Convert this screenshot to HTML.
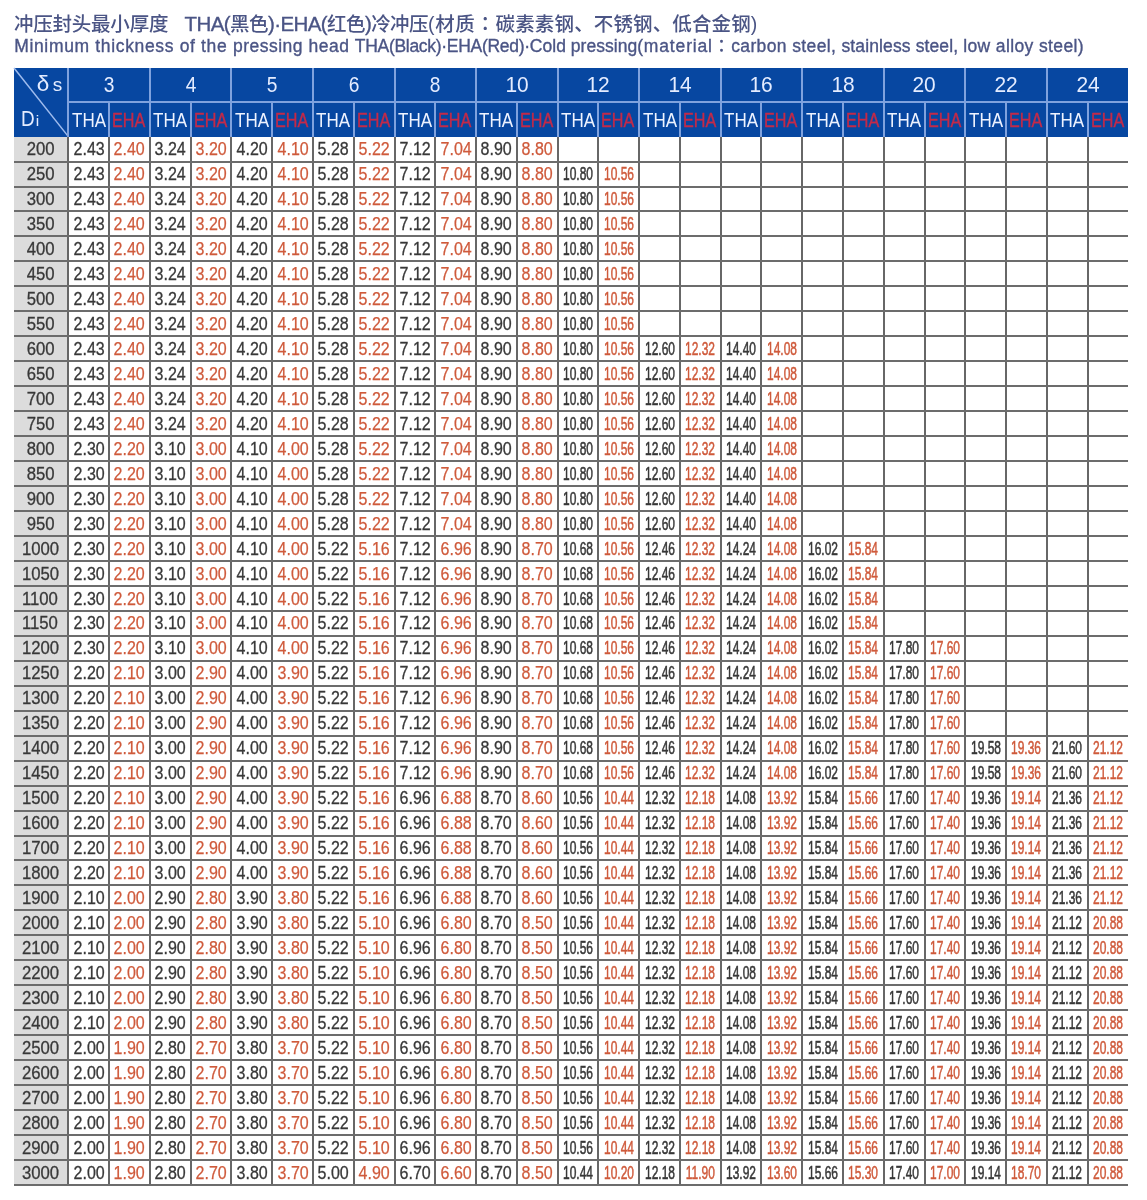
<!DOCTYPE html><html><head><meta charset="utf-8"><title>冲压封头最小厚度</title><style>
*{margin:0;padding:0;box-sizing:border-box}
html,body{width:1147px;height:1200px;background:#fff;overflow:hidden}
body{position:relative;font-family:"Liberation Sans","Noto Sans CJK SC",sans-serif}
.t1,.t2{position:absolute;left:0;width:1147px;color:#4b5585;white-space:nowrap}
.t1{top:9.5px;height:28px;font-size:19.5px;line-height:28px}
.t2{top:34px;height:24px;font-size:17.5px;line-height:24px}
.t1 span,.t2 span{position:absolute;top:0;white-space:pre}
.t1 b{line-height:0;font-weight:400;font-size:20.5px;-webkit-text-stroke:0.35px #4b5585}
.t1{font-weight:500}
i{font-style:normal;line-height:0;font-family:"Liberation Sans","Noto Sans CJK TC",sans-serif}
.t2{-webkit-text-stroke:0.35px #4b5585}
.hd{position:absolute;left:14.0px;top:68.0px;width:1114.42px;height:68.6px;background:#0747a1}
.fc{position:absolute;left:14.0px;top:136.6px;width:54.400000000000006px;height:1048.4px;background:#dcdcdc}
.c{position:absolute;display:flex;justify-content:center;white-space:nowrap}
.c span{display:block;flex:none;transform-origin:50% 50%}
.g{color:#e4ecff;font-size:21.8px}
.th{color:#eef3ff;font-size:21px}
.eh{color:#c42a48;font-size:21px;-webkit-text-stroke:0.4px #c42a48}
.d{color:#383838;font-size:17.6px;-webkit-text-stroke:0.3px #383838}
.r{color:#cf5a3b;font-size:17.6px;-webkit-text-stroke:0.25px #cf5a3b}
.d.k{-webkit-text-stroke:0.55px #383838}
.r.k{-webkit-text-stroke:0.5px #cf5a3b}
.di{color:#383838;font-size:17.6px;-webkit-text-stroke:0.3px #383838}
.cn{position:absolute;line-height:24px;height:24px;color:#e4ecff;white-space:nowrap}
.lv{position:absolute;width:2px;background:#676767}
.lh{position:absolute;height:2px;background:#6c6c6c}
.hv{position:absolute;width:2px;background:#7fa2de}
.hh{position:absolute;height:2px;background:#7fa2de}
</style></head><body>
<div class="t1">
<span id="a0" style="left:14.0px;letter-spacing:-0.227px">冲压封头最小厚度</span>
<span id="a1" style="left:184.6px;letter-spacing:-0.580px"><b>THA(</b>黑色<b>)·EHA(</b>红色<b>)</b>冷冲压</span>
<span id="a2" style="left:428.0px;letter-spacing:0.646px">(材质<i>：</i></span>
<span id="a3" style="left:495.6px;letter-spacing:0.136px">碳素素钢、不锈钢、低合金钢)</span>
</div><div class="t2">
<span id="b0" style="left:14.2px;letter-spacing:0.656px">Minimum thickness of the </span>
<span id="b1" style="left:232.9px;letter-spacing:0.506px">pressing head </span>
<span id="b2" style="left:354.8px;letter-spacing:-0.293px">THA(Black)·EHA(Red)·</span>
<span id="b3" style="left:529.8px;letter-spacing:0.031px">Cold pressing</span>
<span id="b4" style="left:637.2px;letter-spacing:0.842px">(material<i>：</i></span>
<span id="b5" style="left:731.2px;letter-spacing:0.374px">carbon steel, </span>
<span id="b6" style="left:841.5px;letter-spacing:0.121px">stainless steel, </span>
<span id="b7" style="left:963.2px;letter-spacing:0.376px">low alloy steel)</span>
</div>
<div class="hd"></div><div class="fc"></div>
<div class="c g" style="left:68.40px;top:67.70px;width:81.54px;height:33.80px;line-height:33.80px"><span style="transform:scaleX(0.88)">3</span></div>
<div class="c th" style="left:68.40px;top:102.90px;width:40.77px;height:34.80px;line-height:34.80px"><span style="transform:scaleX(0.81)">THA</span></div>
<div class="c eh" style="left:108.37px;top:102.90px;width:40.77px;height:34.80px;line-height:34.80px"><span style="transform:scaleX(0.77)">EHA</span></div>
<div class="c g" style="left:149.94px;top:67.70px;width:81.54px;height:33.80px;line-height:33.80px"><span style="transform:scaleX(0.88)">4</span></div>
<div class="c th" style="left:149.94px;top:102.90px;width:40.77px;height:34.80px;line-height:34.80px"><span style="transform:scaleX(0.81)">THA</span></div>
<div class="c eh" style="left:189.91px;top:102.90px;width:40.77px;height:34.80px;line-height:34.80px"><span style="transform:scaleX(0.77)">EHA</span></div>
<div class="c g" style="left:231.48px;top:67.70px;width:81.54px;height:33.80px;line-height:33.80px"><span style="transform:scaleX(0.88)">5</span></div>
<div class="c th" style="left:231.48px;top:102.90px;width:40.77px;height:34.80px;line-height:34.80px"><span style="transform:scaleX(0.81)">THA</span></div>
<div class="c eh" style="left:271.45px;top:102.90px;width:40.77px;height:34.80px;line-height:34.80px"><span style="transform:scaleX(0.77)">EHA</span></div>
<div class="c g" style="left:313.02px;top:67.70px;width:81.54px;height:33.80px;line-height:33.80px"><span style="transform:scaleX(0.88)">6</span></div>
<div class="c th" style="left:313.02px;top:102.90px;width:40.77px;height:34.80px;line-height:34.80px"><span style="transform:scaleX(0.81)">THA</span></div>
<div class="c eh" style="left:352.99px;top:102.90px;width:40.77px;height:34.80px;line-height:34.80px"><span style="transform:scaleX(0.77)">EHA</span></div>
<div class="c g" style="left:394.56px;top:67.70px;width:81.54px;height:33.80px;line-height:33.80px"><span style="transform:scaleX(0.88)">8</span></div>
<div class="c th" style="left:394.56px;top:102.90px;width:40.77px;height:34.80px;line-height:34.80px"><span style="transform:scaleX(0.81)">THA</span></div>
<div class="c eh" style="left:434.53px;top:102.90px;width:40.77px;height:34.80px;line-height:34.80px"><span style="transform:scaleX(0.77)">EHA</span></div>
<div class="c g" style="left:476.10px;top:67.70px;width:81.54px;height:33.80px;line-height:33.80px"><span style="transform:scaleX(0.96)">10</span></div>
<div class="c th" style="left:476.10px;top:102.90px;width:40.77px;height:34.80px;line-height:34.80px"><span style="transform:scaleX(0.81)">THA</span></div>
<div class="c eh" style="left:516.07px;top:102.90px;width:40.77px;height:34.80px;line-height:34.80px"><span style="transform:scaleX(0.77)">EHA</span></div>
<div class="c g" style="left:557.64px;top:67.70px;width:81.54px;height:33.80px;line-height:33.80px"><span style="transform:scaleX(0.96)">12</span></div>
<div class="c th" style="left:557.64px;top:102.90px;width:40.77px;height:34.80px;line-height:34.80px"><span style="transform:scaleX(0.81)">THA</span></div>
<div class="c eh" style="left:597.61px;top:102.90px;width:40.77px;height:34.80px;line-height:34.80px"><span style="transform:scaleX(0.77)">EHA</span></div>
<div class="c g" style="left:639.18px;top:67.70px;width:81.54px;height:33.80px;line-height:33.80px"><span style="transform:scaleX(0.96)">14</span></div>
<div class="c th" style="left:639.18px;top:102.90px;width:40.77px;height:34.80px;line-height:34.80px"><span style="transform:scaleX(0.81)">THA</span></div>
<div class="c eh" style="left:679.15px;top:102.90px;width:40.77px;height:34.80px;line-height:34.80px"><span style="transform:scaleX(0.77)">EHA</span></div>
<div class="c g" style="left:720.72px;top:67.70px;width:81.54px;height:33.80px;line-height:33.80px"><span style="transform:scaleX(0.96)">16</span></div>
<div class="c th" style="left:720.72px;top:102.90px;width:40.77px;height:34.80px;line-height:34.80px"><span style="transform:scaleX(0.81)">THA</span></div>
<div class="c eh" style="left:760.69px;top:102.90px;width:40.77px;height:34.80px;line-height:34.80px"><span style="transform:scaleX(0.77)">EHA</span></div>
<div class="c g" style="left:802.26px;top:67.70px;width:81.54px;height:33.80px;line-height:33.80px"><span style="transform:scaleX(0.96)">18</span></div>
<div class="c th" style="left:802.26px;top:102.90px;width:40.77px;height:34.80px;line-height:34.80px"><span style="transform:scaleX(0.81)">THA</span></div>
<div class="c eh" style="left:842.23px;top:102.90px;width:40.77px;height:34.80px;line-height:34.80px"><span style="transform:scaleX(0.77)">EHA</span></div>
<div class="c g" style="left:883.80px;top:67.70px;width:81.54px;height:33.80px;line-height:33.80px"><span style="transform:scaleX(0.96)">20</span></div>
<div class="c th" style="left:883.80px;top:102.90px;width:40.77px;height:34.80px;line-height:34.80px"><span style="transform:scaleX(0.81)">THA</span></div>
<div class="c eh" style="left:923.77px;top:102.90px;width:40.77px;height:34.80px;line-height:34.80px"><span style="transform:scaleX(0.77)">EHA</span></div>
<div class="c g" style="left:965.34px;top:67.70px;width:81.54px;height:33.80px;line-height:33.80px"><span style="transform:scaleX(0.96)">22</span></div>
<div class="c th" style="left:965.34px;top:102.90px;width:40.77px;height:34.80px;line-height:34.80px"><span style="transform:scaleX(0.81)">THA</span></div>
<div class="c eh" style="left:1005.31px;top:102.90px;width:40.77px;height:34.80px;line-height:34.80px"><span style="transform:scaleX(0.77)">EHA</span></div>
<div class="c g" style="left:1046.88px;top:67.70px;width:81.54px;height:33.80px;line-height:33.80px"><span style="transform:scaleX(0.96)">24</span></div>
<div class="c th" style="left:1046.88px;top:102.90px;width:40.77px;height:34.80px;line-height:34.80px"><span style="transform:scaleX(0.81)">THA</span></div>
<div class="c eh" style="left:1086.85px;top:102.90px;width:40.77px;height:34.80px;line-height:34.80px"><span style="transform:scaleX(0.77)">EHA</span></div>
<svg style="position:absolute;left:0;top:0" width="1147" height="200"><line x1="14.0" y1="68.0" x2="68.4" y2="136.6" stroke="#9fbcee" stroke-width="1.5"/></svg>
<div class="cn" style="left:36.8px;top:72px;font-size:22.5px">δ</div><div class="cn" style="left:52.8px;top:72.5px;font-size:19px">s</div>
<div class="cn" style="left:20.5px;top:106.5px;font-size:21.5px;transform:scaleX(0.88);transform-origin:0 0">D</div><div class="cn" style="left:35.8px;top:108.5px;font-size:15.5px">i</div>
<div class="c di" style="left:13.10px;top:137.20px;width:54.40px;height:24.96px;line-height:24.96px"><span style="transform:scaleX(0.95)">200</span></div>
<div class="c d" style="left:68.40px;top:137.20px;width:40.77px;height:24.96px;line-height:24.96px"><span style="transform:scaleX(0.91)">2.43</span></div>
<div class="c r" style="left:109.17px;top:137.20px;width:40.77px;height:24.96px;line-height:24.96px"><span style="transform:scaleX(0.91)">2.40</span></div>
<div class="c d" style="left:149.94px;top:137.20px;width:40.77px;height:24.96px;line-height:24.96px"><span style="transform:scaleX(0.91)">3.24</span></div>
<div class="c r" style="left:190.71px;top:137.20px;width:40.77px;height:24.96px;line-height:24.96px"><span style="transform:scaleX(0.91)">3.20</span></div>
<div class="c d" style="left:231.48px;top:137.20px;width:40.77px;height:24.96px;line-height:24.96px"><span style="transform:scaleX(0.91)">4.20</span></div>
<div class="c r" style="left:272.25px;top:137.20px;width:40.77px;height:24.96px;line-height:24.96px"><span style="transform:scaleX(0.91)">4.10</span></div>
<div class="c d" style="left:313.02px;top:137.20px;width:40.77px;height:24.96px;line-height:24.96px"><span style="transform:scaleX(0.91)">5.28</span></div>
<div class="c r" style="left:353.79px;top:137.20px;width:40.77px;height:24.96px;line-height:24.96px"><span style="transform:scaleX(0.91)">5.22</span></div>
<div class="c d" style="left:394.56px;top:137.20px;width:40.77px;height:24.96px;line-height:24.96px"><span style="transform:scaleX(0.91)">7.12</span></div>
<div class="c r" style="left:435.33px;top:137.20px;width:40.77px;height:24.96px;line-height:24.96px"><span style="transform:scaleX(0.91)">7.04</span></div>
<div class="c d" style="left:476.10px;top:137.20px;width:40.77px;height:24.96px;line-height:24.96px"><span style="transform:scaleX(0.91)">8.90</span></div>
<div class="c r" style="left:516.87px;top:137.20px;width:40.77px;height:24.96px;line-height:24.96px"><span style="transform:scaleX(0.91)">8.80</span></div>
<div class="c di" style="left:13.10px;top:162.16px;width:54.40px;height:24.96px;line-height:24.96px"><span style="transform:scaleX(0.95)">250</span></div>
<div class="c d" style="left:68.40px;top:162.16px;width:40.77px;height:24.96px;line-height:24.96px"><span style="transform:scaleX(0.91)">2.43</span></div>
<div class="c r" style="left:109.17px;top:162.16px;width:40.77px;height:24.96px;line-height:24.96px"><span style="transform:scaleX(0.91)">2.40</span></div>
<div class="c d" style="left:149.94px;top:162.16px;width:40.77px;height:24.96px;line-height:24.96px"><span style="transform:scaleX(0.91)">3.24</span></div>
<div class="c r" style="left:190.71px;top:162.16px;width:40.77px;height:24.96px;line-height:24.96px"><span style="transform:scaleX(0.91)">3.20</span></div>
<div class="c d" style="left:231.48px;top:162.16px;width:40.77px;height:24.96px;line-height:24.96px"><span style="transform:scaleX(0.91)">4.20</span></div>
<div class="c r" style="left:272.25px;top:162.16px;width:40.77px;height:24.96px;line-height:24.96px"><span style="transform:scaleX(0.91)">4.10</span></div>
<div class="c d" style="left:313.02px;top:162.16px;width:40.77px;height:24.96px;line-height:24.96px"><span style="transform:scaleX(0.91)">5.28</span></div>
<div class="c r" style="left:353.79px;top:162.16px;width:40.77px;height:24.96px;line-height:24.96px"><span style="transform:scaleX(0.91)">5.22</span></div>
<div class="c d" style="left:394.56px;top:162.16px;width:40.77px;height:24.96px;line-height:24.96px"><span style="transform:scaleX(0.91)">7.12</span></div>
<div class="c r" style="left:435.33px;top:162.16px;width:40.77px;height:24.96px;line-height:24.96px"><span style="transform:scaleX(0.91)">7.04</span></div>
<div class="c d" style="left:476.10px;top:162.16px;width:40.77px;height:24.96px;line-height:24.96px"><span style="transform:scaleX(0.91)">8.90</span></div>
<div class="c r" style="left:516.87px;top:162.16px;width:40.77px;height:24.96px;line-height:24.96px"><span style="transform:scaleX(0.91)">8.80</span></div>
<div class="c d k" style="left:557.64px;top:162.16px;width:40.77px;height:24.96px;line-height:24.96px"><span style="transform:scaleX(0.68)">10.80</span></div>
<div class="c r k" style="left:598.41px;top:162.16px;width:40.77px;height:24.96px;line-height:24.96px"><span style="transform:scaleX(0.68)">10.56</span></div>
<div class="c di" style="left:13.10px;top:187.12px;width:54.40px;height:24.96px;line-height:24.96px"><span style="transform:scaleX(0.95)">300</span></div>
<div class="c d" style="left:68.40px;top:187.12px;width:40.77px;height:24.96px;line-height:24.96px"><span style="transform:scaleX(0.91)">2.43</span></div>
<div class="c r" style="left:109.17px;top:187.12px;width:40.77px;height:24.96px;line-height:24.96px"><span style="transform:scaleX(0.91)">2.40</span></div>
<div class="c d" style="left:149.94px;top:187.12px;width:40.77px;height:24.96px;line-height:24.96px"><span style="transform:scaleX(0.91)">3.24</span></div>
<div class="c r" style="left:190.71px;top:187.12px;width:40.77px;height:24.96px;line-height:24.96px"><span style="transform:scaleX(0.91)">3.20</span></div>
<div class="c d" style="left:231.48px;top:187.12px;width:40.77px;height:24.96px;line-height:24.96px"><span style="transform:scaleX(0.91)">4.20</span></div>
<div class="c r" style="left:272.25px;top:187.12px;width:40.77px;height:24.96px;line-height:24.96px"><span style="transform:scaleX(0.91)">4.10</span></div>
<div class="c d" style="left:313.02px;top:187.12px;width:40.77px;height:24.96px;line-height:24.96px"><span style="transform:scaleX(0.91)">5.28</span></div>
<div class="c r" style="left:353.79px;top:187.12px;width:40.77px;height:24.96px;line-height:24.96px"><span style="transform:scaleX(0.91)">5.22</span></div>
<div class="c d" style="left:394.56px;top:187.12px;width:40.77px;height:24.96px;line-height:24.96px"><span style="transform:scaleX(0.91)">7.12</span></div>
<div class="c r" style="left:435.33px;top:187.12px;width:40.77px;height:24.96px;line-height:24.96px"><span style="transform:scaleX(0.91)">7.04</span></div>
<div class="c d" style="left:476.10px;top:187.12px;width:40.77px;height:24.96px;line-height:24.96px"><span style="transform:scaleX(0.91)">8.90</span></div>
<div class="c r" style="left:516.87px;top:187.12px;width:40.77px;height:24.96px;line-height:24.96px"><span style="transform:scaleX(0.91)">8.80</span></div>
<div class="c d k" style="left:557.64px;top:187.12px;width:40.77px;height:24.96px;line-height:24.96px"><span style="transform:scaleX(0.68)">10.80</span></div>
<div class="c r k" style="left:598.41px;top:187.12px;width:40.77px;height:24.96px;line-height:24.96px"><span style="transform:scaleX(0.68)">10.56</span></div>
<div class="c di" style="left:13.10px;top:212.09px;width:54.40px;height:24.96px;line-height:24.96px"><span style="transform:scaleX(0.95)">350</span></div>
<div class="c d" style="left:68.40px;top:212.09px;width:40.77px;height:24.96px;line-height:24.96px"><span style="transform:scaleX(0.91)">2.43</span></div>
<div class="c r" style="left:109.17px;top:212.09px;width:40.77px;height:24.96px;line-height:24.96px"><span style="transform:scaleX(0.91)">2.40</span></div>
<div class="c d" style="left:149.94px;top:212.09px;width:40.77px;height:24.96px;line-height:24.96px"><span style="transform:scaleX(0.91)">3.24</span></div>
<div class="c r" style="left:190.71px;top:212.09px;width:40.77px;height:24.96px;line-height:24.96px"><span style="transform:scaleX(0.91)">3.20</span></div>
<div class="c d" style="left:231.48px;top:212.09px;width:40.77px;height:24.96px;line-height:24.96px"><span style="transform:scaleX(0.91)">4.20</span></div>
<div class="c r" style="left:272.25px;top:212.09px;width:40.77px;height:24.96px;line-height:24.96px"><span style="transform:scaleX(0.91)">4.10</span></div>
<div class="c d" style="left:313.02px;top:212.09px;width:40.77px;height:24.96px;line-height:24.96px"><span style="transform:scaleX(0.91)">5.28</span></div>
<div class="c r" style="left:353.79px;top:212.09px;width:40.77px;height:24.96px;line-height:24.96px"><span style="transform:scaleX(0.91)">5.22</span></div>
<div class="c d" style="left:394.56px;top:212.09px;width:40.77px;height:24.96px;line-height:24.96px"><span style="transform:scaleX(0.91)">7.12</span></div>
<div class="c r" style="left:435.33px;top:212.09px;width:40.77px;height:24.96px;line-height:24.96px"><span style="transform:scaleX(0.91)">7.04</span></div>
<div class="c d" style="left:476.10px;top:212.09px;width:40.77px;height:24.96px;line-height:24.96px"><span style="transform:scaleX(0.91)">8.90</span></div>
<div class="c r" style="left:516.87px;top:212.09px;width:40.77px;height:24.96px;line-height:24.96px"><span style="transform:scaleX(0.91)">8.80</span></div>
<div class="c d k" style="left:557.64px;top:212.09px;width:40.77px;height:24.96px;line-height:24.96px"><span style="transform:scaleX(0.68)">10.80</span></div>
<div class="c r k" style="left:598.41px;top:212.09px;width:40.77px;height:24.96px;line-height:24.96px"><span style="transform:scaleX(0.68)">10.56</span></div>
<div class="c di" style="left:13.10px;top:237.05px;width:54.40px;height:24.96px;line-height:24.96px"><span style="transform:scaleX(0.95)">400</span></div>
<div class="c d" style="left:68.40px;top:237.05px;width:40.77px;height:24.96px;line-height:24.96px"><span style="transform:scaleX(0.91)">2.43</span></div>
<div class="c r" style="left:109.17px;top:237.05px;width:40.77px;height:24.96px;line-height:24.96px"><span style="transform:scaleX(0.91)">2.40</span></div>
<div class="c d" style="left:149.94px;top:237.05px;width:40.77px;height:24.96px;line-height:24.96px"><span style="transform:scaleX(0.91)">3.24</span></div>
<div class="c r" style="left:190.71px;top:237.05px;width:40.77px;height:24.96px;line-height:24.96px"><span style="transform:scaleX(0.91)">3.20</span></div>
<div class="c d" style="left:231.48px;top:237.05px;width:40.77px;height:24.96px;line-height:24.96px"><span style="transform:scaleX(0.91)">4.20</span></div>
<div class="c r" style="left:272.25px;top:237.05px;width:40.77px;height:24.96px;line-height:24.96px"><span style="transform:scaleX(0.91)">4.10</span></div>
<div class="c d" style="left:313.02px;top:237.05px;width:40.77px;height:24.96px;line-height:24.96px"><span style="transform:scaleX(0.91)">5.28</span></div>
<div class="c r" style="left:353.79px;top:237.05px;width:40.77px;height:24.96px;line-height:24.96px"><span style="transform:scaleX(0.91)">5.22</span></div>
<div class="c d" style="left:394.56px;top:237.05px;width:40.77px;height:24.96px;line-height:24.96px"><span style="transform:scaleX(0.91)">7.12</span></div>
<div class="c r" style="left:435.33px;top:237.05px;width:40.77px;height:24.96px;line-height:24.96px"><span style="transform:scaleX(0.91)">7.04</span></div>
<div class="c d" style="left:476.10px;top:237.05px;width:40.77px;height:24.96px;line-height:24.96px"><span style="transform:scaleX(0.91)">8.90</span></div>
<div class="c r" style="left:516.87px;top:237.05px;width:40.77px;height:24.96px;line-height:24.96px"><span style="transform:scaleX(0.91)">8.80</span></div>
<div class="c d k" style="left:557.64px;top:237.05px;width:40.77px;height:24.96px;line-height:24.96px"><span style="transform:scaleX(0.68)">10.80</span></div>
<div class="c r k" style="left:598.41px;top:237.05px;width:40.77px;height:24.96px;line-height:24.96px"><span style="transform:scaleX(0.68)">10.56</span></div>
<div class="c di" style="left:13.10px;top:262.01px;width:54.40px;height:24.96px;line-height:24.96px"><span style="transform:scaleX(0.95)">450</span></div>
<div class="c d" style="left:68.40px;top:262.01px;width:40.77px;height:24.96px;line-height:24.96px"><span style="transform:scaleX(0.91)">2.43</span></div>
<div class="c r" style="left:109.17px;top:262.01px;width:40.77px;height:24.96px;line-height:24.96px"><span style="transform:scaleX(0.91)">2.40</span></div>
<div class="c d" style="left:149.94px;top:262.01px;width:40.77px;height:24.96px;line-height:24.96px"><span style="transform:scaleX(0.91)">3.24</span></div>
<div class="c r" style="left:190.71px;top:262.01px;width:40.77px;height:24.96px;line-height:24.96px"><span style="transform:scaleX(0.91)">3.20</span></div>
<div class="c d" style="left:231.48px;top:262.01px;width:40.77px;height:24.96px;line-height:24.96px"><span style="transform:scaleX(0.91)">4.20</span></div>
<div class="c r" style="left:272.25px;top:262.01px;width:40.77px;height:24.96px;line-height:24.96px"><span style="transform:scaleX(0.91)">4.10</span></div>
<div class="c d" style="left:313.02px;top:262.01px;width:40.77px;height:24.96px;line-height:24.96px"><span style="transform:scaleX(0.91)">5.28</span></div>
<div class="c r" style="left:353.79px;top:262.01px;width:40.77px;height:24.96px;line-height:24.96px"><span style="transform:scaleX(0.91)">5.22</span></div>
<div class="c d" style="left:394.56px;top:262.01px;width:40.77px;height:24.96px;line-height:24.96px"><span style="transform:scaleX(0.91)">7.12</span></div>
<div class="c r" style="left:435.33px;top:262.01px;width:40.77px;height:24.96px;line-height:24.96px"><span style="transform:scaleX(0.91)">7.04</span></div>
<div class="c d" style="left:476.10px;top:262.01px;width:40.77px;height:24.96px;line-height:24.96px"><span style="transform:scaleX(0.91)">8.90</span></div>
<div class="c r" style="left:516.87px;top:262.01px;width:40.77px;height:24.96px;line-height:24.96px"><span style="transform:scaleX(0.91)">8.80</span></div>
<div class="c d k" style="left:557.64px;top:262.01px;width:40.77px;height:24.96px;line-height:24.96px"><span style="transform:scaleX(0.68)">10.80</span></div>
<div class="c r k" style="left:598.41px;top:262.01px;width:40.77px;height:24.96px;line-height:24.96px"><span style="transform:scaleX(0.68)">10.56</span></div>
<div class="c di" style="left:13.10px;top:286.97px;width:54.40px;height:24.96px;line-height:24.96px"><span style="transform:scaleX(0.95)">500</span></div>
<div class="c d" style="left:68.40px;top:286.97px;width:40.77px;height:24.96px;line-height:24.96px"><span style="transform:scaleX(0.91)">2.43</span></div>
<div class="c r" style="left:109.17px;top:286.97px;width:40.77px;height:24.96px;line-height:24.96px"><span style="transform:scaleX(0.91)">2.40</span></div>
<div class="c d" style="left:149.94px;top:286.97px;width:40.77px;height:24.96px;line-height:24.96px"><span style="transform:scaleX(0.91)">3.24</span></div>
<div class="c r" style="left:190.71px;top:286.97px;width:40.77px;height:24.96px;line-height:24.96px"><span style="transform:scaleX(0.91)">3.20</span></div>
<div class="c d" style="left:231.48px;top:286.97px;width:40.77px;height:24.96px;line-height:24.96px"><span style="transform:scaleX(0.91)">4.20</span></div>
<div class="c r" style="left:272.25px;top:286.97px;width:40.77px;height:24.96px;line-height:24.96px"><span style="transform:scaleX(0.91)">4.10</span></div>
<div class="c d" style="left:313.02px;top:286.97px;width:40.77px;height:24.96px;line-height:24.96px"><span style="transform:scaleX(0.91)">5.28</span></div>
<div class="c r" style="left:353.79px;top:286.97px;width:40.77px;height:24.96px;line-height:24.96px"><span style="transform:scaleX(0.91)">5.22</span></div>
<div class="c d" style="left:394.56px;top:286.97px;width:40.77px;height:24.96px;line-height:24.96px"><span style="transform:scaleX(0.91)">7.12</span></div>
<div class="c r" style="left:435.33px;top:286.97px;width:40.77px;height:24.96px;line-height:24.96px"><span style="transform:scaleX(0.91)">7.04</span></div>
<div class="c d" style="left:476.10px;top:286.97px;width:40.77px;height:24.96px;line-height:24.96px"><span style="transform:scaleX(0.91)">8.90</span></div>
<div class="c r" style="left:516.87px;top:286.97px;width:40.77px;height:24.96px;line-height:24.96px"><span style="transform:scaleX(0.91)">8.80</span></div>
<div class="c d k" style="left:557.64px;top:286.97px;width:40.77px;height:24.96px;line-height:24.96px"><span style="transform:scaleX(0.68)">10.80</span></div>
<div class="c r k" style="left:598.41px;top:286.97px;width:40.77px;height:24.96px;line-height:24.96px"><span style="transform:scaleX(0.68)">10.56</span></div>
<div class="c di" style="left:13.10px;top:311.93px;width:54.40px;height:24.96px;line-height:24.96px"><span style="transform:scaleX(0.95)">550</span></div>
<div class="c d" style="left:68.40px;top:311.93px;width:40.77px;height:24.96px;line-height:24.96px"><span style="transform:scaleX(0.91)">2.43</span></div>
<div class="c r" style="left:109.17px;top:311.93px;width:40.77px;height:24.96px;line-height:24.96px"><span style="transform:scaleX(0.91)">2.40</span></div>
<div class="c d" style="left:149.94px;top:311.93px;width:40.77px;height:24.96px;line-height:24.96px"><span style="transform:scaleX(0.91)">3.24</span></div>
<div class="c r" style="left:190.71px;top:311.93px;width:40.77px;height:24.96px;line-height:24.96px"><span style="transform:scaleX(0.91)">3.20</span></div>
<div class="c d" style="left:231.48px;top:311.93px;width:40.77px;height:24.96px;line-height:24.96px"><span style="transform:scaleX(0.91)">4.20</span></div>
<div class="c r" style="left:272.25px;top:311.93px;width:40.77px;height:24.96px;line-height:24.96px"><span style="transform:scaleX(0.91)">4.10</span></div>
<div class="c d" style="left:313.02px;top:311.93px;width:40.77px;height:24.96px;line-height:24.96px"><span style="transform:scaleX(0.91)">5.28</span></div>
<div class="c r" style="left:353.79px;top:311.93px;width:40.77px;height:24.96px;line-height:24.96px"><span style="transform:scaleX(0.91)">5.22</span></div>
<div class="c d" style="left:394.56px;top:311.93px;width:40.77px;height:24.96px;line-height:24.96px"><span style="transform:scaleX(0.91)">7.12</span></div>
<div class="c r" style="left:435.33px;top:311.93px;width:40.77px;height:24.96px;line-height:24.96px"><span style="transform:scaleX(0.91)">7.04</span></div>
<div class="c d" style="left:476.10px;top:311.93px;width:40.77px;height:24.96px;line-height:24.96px"><span style="transform:scaleX(0.91)">8.90</span></div>
<div class="c r" style="left:516.87px;top:311.93px;width:40.77px;height:24.96px;line-height:24.96px"><span style="transform:scaleX(0.91)">8.80</span></div>
<div class="c d k" style="left:557.64px;top:311.93px;width:40.77px;height:24.96px;line-height:24.96px"><span style="transform:scaleX(0.68)">10.80</span></div>
<div class="c r k" style="left:598.41px;top:311.93px;width:40.77px;height:24.96px;line-height:24.96px"><span style="transform:scaleX(0.68)">10.56</span></div>
<div class="c di" style="left:13.10px;top:336.90px;width:54.40px;height:24.96px;line-height:24.96px"><span style="transform:scaleX(0.95)">600</span></div>
<div class="c d" style="left:68.40px;top:336.90px;width:40.77px;height:24.96px;line-height:24.96px"><span style="transform:scaleX(0.91)">2.43</span></div>
<div class="c r" style="left:109.17px;top:336.90px;width:40.77px;height:24.96px;line-height:24.96px"><span style="transform:scaleX(0.91)">2.40</span></div>
<div class="c d" style="left:149.94px;top:336.90px;width:40.77px;height:24.96px;line-height:24.96px"><span style="transform:scaleX(0.91)">3.24</span></div>
<div class="c r" style="left:190.71px;top:336.90px;width:40.77px;height:24.96px;line-height:24.96px"><span style="transform:scaleX(0.91)">3.20</span></div>
<div class="c d" style="left:231.48px;top:336.90px;width:40.77px;height:24.96px;line-height:24.96px"><span style="transform:scaleX(0.91)">4.20</span></div>
<div class="c r" style="left:272.25px;top:336.90px;width:40.77px;height:24.96px;line-height:24.96px"><span style="transform:scaleX(0.91)">4.10</span></div>
<div class="c d" style="left:313.02px;top:336.90px;width:40.77px;height:24.96px;line-height:24.96px"><span style="transform:scaleX(0.91)">5.28</span></div>
<div class="c r" style="left:353.79px;top:336.90px;width:40.77px;height:24.96px;line-height:24.96px"><span style="transform:scaleX(0.91)">5.22</span></div>
<div class="c d" style="left:394.56px;top:336.90px;width:40.77px;height:24.96px;line-height:24.96px"><span style="transform:scaleX(0.91)">7.12</span></div>
<div class="c r" style="left:435.33px;top:336.90px;width:40.77px;height:24.96px;line-height:24.96px"><span style="transform:scaleX(0.91)">7.04</span></div>
<div class="c d" style="left:476.10px;top:336.90px;width:40.77px;height:24.96px;line-height:24.96px"><span style="transform:scaleX(0.91)">8.90</span></div>
<div class="c r" style="left:516.87px;top:336.90px;width:40.77px;height:24.96px;line-height:24.96px"><span style="transform:scaleX(0.91)">8.80</span></div>
<div class="c d k" style="left:557.64px;top:336.90px;width:40.77px;height:24.96px;line-height:24.96px"><span style="transform:scaleX(0.68)">10.80</span></div>
<div class="c r k" style="left:598.41px;top:336.90px;width:40.77px;height:24.96px;line-height:24.96px"><span style="transform:scaleX(0.68)">10.56</span></div>
<div class="c d k" style="left:639.18px;top:336.90px;width:40.77px;height:24.96px;line-height:24.96px"><span style="transform:scaleX(0.68)">12.60</span></div>
<div class="c r k" style="left:679.95px;top:336.90px;width:40.77px;height:24.96px;line-height:24.96px"><span style="transform:scaleX(0.68)">12.32</span></div>
<div class="c d k" style="left:720.72px;top:336.90px;width:40.77px;height:24.96px;line-height:24.96px"><span style="transform:scaleX(0.68)">14.40</span></div>
<div class="c r k" style="left:761.49px;top:336.90px;width:40.77px;height:24.96px;line-height:24.96px"><span style="transform:scaleX(0.68)">14.08</span></div>
<div class="c di" style="left:13.10px;top:361.86px;width:54.40px;height:24.96px;line-height:24.96px"><span style="transform:scaleX(0.95)">650</span></div>
<div class="c d" style="left:68.40px;top:361.86px;width:40.77px;height:24.96px;line-height:24.96px"><span style="transform:scaleX(0.91)">2.43</span></div>
<div class="c r" style="left:109.17px;top:361.86px;width:40.77px;height:24.96px;line-height:24.96px"><span style="transform:scaleX(0.91)">2.40</span></div>
<div class="c d" style="left:149.94px;top:361.86px;width:40.77px;height:24.96px;line-height:24.96px"><span style="transform:scaleX(0.91)">3.24</span></div>
<div class="c r" style="left:190.71px;top:361.86px;width:40.77px;height:24.96px;line-height:24.96px"><span style="transform:scaleX(0.91)">3.20</span></div>
<div class="c d" style="left:231.48px;top:361.86px;width:40.77px;height:24.96px;line-height:24.96px"><span style="transform:scaleX(0.91)">4.20</span></div>
<div class="c r" style="left:272.25px;top:361.86px;width:40.77px;height:24.96px;line-height:24.96px"><span style="transform:scaleX(0.91)">4.10</span></div>
<div class="c d" style="left:313.02px;top:361.86px;width:40.77px;height:24.96px;line-height:24.96px"><span style="transform:scaleX(0.91)">5.28</span></div>
<div class="c r" style="left:353.79px;top:361.86px;width:40.77px;height:24.96px;line-height:24.96px"><span style="transform:scaleX(0.91)">5.22</span></div>
<div class="c d" style="left:394.56px;top:361.86px;width:40.77px;height:24.96px;line-height:24.96px"><span style="transform:scaleX(0.91)">7.12</span></div>
<div class="c r" style="left:435.33px;top:361.86px;width:40.77px;height:24.96px;line-height:24.96px"><span style="transform:scaleX(0.91)">7.04</span></div>
<div class="c d" style="left:476.10px;top:361.86px;width:40.77px;height:24.96px;line-height:24.96px"><span style="transform:scaleX(0.91)">8.90</span></div>
<div class="c r" style="left:516.87px;top:361.86px;width:40.77px;height:24.96px;line-height:24.96px"><span style="transform:scaleX(0.91)">8.80</span></div>
<div class="c d k" style="left:557.64px;top:361.86px;width:40.77px;height:24.96px;line-height:24.96px"><span style="transform:scaleX(0.68)">10.80</span></div>
<div class="c r k" style="left:598.41px;top:361.86px;width:40.77px;height:24.96px;line-height:24.96px"><span style="transform:scaleX(0.68)">10.56</span></div>
<div class="c d k" style="left:639.18px;top:361.86px;width:40.77px;height:24.96px;line-height:24.96px"><span style="transform:scaleX(0.68)">12.60</span></div>
<div class="c r k" style="left:679.95px;top:361.86px;width:40.77px;height:24.96px;line-height:24.96px"><span style="transform:scaleX(0.68)">12.32</span></div>
<div class="c d k" style="left:720.72px;top:361.86px;width:40.77px;height:24.96px;line-height:24.96px"><span style="transform:scaleX(0.68)">14.40</span></div>
<div class="c r k" style="left:761.49px;top:361.86px;width:40.77px;height:24.96px;line-height:24.96px"><span style="transform:scaleX(0.68)">14.08</span></div>
<div class="c di" style="left:13.10px;top:386.82px;width:54.40px;height:24.96px;line-height:24.96px"><span style="transform:scaleX(0.95)">700</span></div>
<div class="c d" style="left:68.40px;top:386.82px;width:40.77px;height:24.96px;line-height:24.96px"><span style="transform:scaleX(0.91)">2.43</span></div>
<div class="c r" style="left:109.17px;top:386.82px;width:40.77px;height:24.96px;line-height:24.96px"><span style="transform:scaleX(0.91)">2.40</span></div>
<div class="c d" style="left:149.94px;top:386.82px;width:40.77px;height:24.96px;line-height:24.96px"><span style="transform:scaleX(0.91)">3.24</span></div>
<div class="c r" style="left:190.71px;top:386.82px;width:40.77px;height:24.96px;line-height:24.96px"><span style="transform:scaleX(0.91)">3.20</span></div>
<div class="c d" style="left:231.48px;top:386.82px;width:40.77px;height:24.96px;line-height:24.96px"><span style="transform:scaleX(0.91)">4.20</span></div>
<div class="c r" style="left:272.25px;top:386.82px;width:40.77px;height:24.96px;line-height:24.96px"><span style="transform:scaleX(0.91)">4.10</span></div>
<div class="c d" style="left:313.02px;top:386.82px;width:40.77px;height:24.96px;line-height:24.96px"><span style="transform:scaleX(0.91)">5.28</span></div>
<div class="c r" style="left:353.79px;top:386.82px;width:40.77px;height:24.96px;line-height:24.96px"><span style="transform:scaleX(0.91)">5.22</span></div>
<div class="c d" style="left:394.56px;top:386.82px;width:40.77px;height:24.96px;line-height:24.96px"><span style="transform:scaleX(0.91)">7.12</span></div>
<div class="c r" style="left:435.33px;top:386.82px;width:40.77px;height:24.96px;line-height:24.96px"><span style="transform:scaleX(0.91)">7.04</span></div>
<div class="c d" style="left:476.10px;top:386.82px;width:40.77px;height:24.96px;line-height:24.96px"><span style="transform:scaleX(0.91)">8.90</span></div>
<div class="c r" style="left:516.87px;top:386.82px;width:40.77px;height:24.96px;line-height:24.96px"><span style="transform:scaleX(0.91)">8.80</span></div>
<div class="c d k" style="left:557.64px;top:386.82px;width:40.77px;height:24.96px;line-height:24.96px"><span style="transform:scaleX(0.68)">10.80</span></div>
<div class="c r k" style="left:598.41px;top:386.82px;width:40.77px;height:24.96px;line-height:24.96px"><span style="transform:scaleX(0.68)">10.56</span></div>
<div class="c d k" style="left:639.18px;top:386.82px;width:40.77px;height:24.96px;line-height:24.96px"><span style="transform:scaleX(0.68)">12.60</span></div>
<div class="c r k" style="left:679.95px;top:386.82px;width:40.77px;height:24.96px;line-height:24.96px"><span style="transform:scaleX(0.68)">12.32</span></div>
<div class="c d k" style="left:720.72px;top:386.82px;width:40.77px;height:24.96px;line-height:24.96px"><span style="transform:scaleX(0.68)">14.40</span></div>
<div class="c r k" style="left:761.49px;top:386.82px;width:40.77px;height:24.96px;line-height:24.96px"><span style="transform:scaleX(0.68)">14.08</span></div>
<div class="c di" style="left:13.10px;top:411.78px;width:54.40px;height:24.96px;line-height:24.96px"><span style="transform:scaleX(0.95)">750</span></div>
<div class="c d" style="left:68.40px;top:411.78px;width:40.77px;height:24.96px;line-height:24.96px"><span style="transform:scaleX(0.91)">2.43</span></div>
<div class="c r" style="left:109.17px;top:411.78px;width:40.77px;height:24.96px;line-height:24.96px"><span style="transform:scaleX(0.91)">2.40</span></div>
<div class="c d" style="left:149.94px;top:411.78px;width:40.77px;height:24.96px;line-height:24.96px"><span style="transform:scaleX(0.91)">3.24</span></div>
<div class="c r" style="left:190.71px;top:411.78px;width:40.77px;height:24.96px;line-height:24.96px"><span style="transform:scaleX(0.91)">3.20</span></div>
<div class="c d" style="left:231.48px;top:411.78px;width:40.77px;height:24.96px;line-height:24.96px"><span style="transform:scaleX(0.91)">4.20</span></div>
<div class="c r" style="left:272.25px;top:411.78px;width:40.77px;height:24.96px;line-height:24.96px"><span style="transform:scaleX(0.91)">4.10</span></div>
<div class="c d" style="left:313.02px;top:411.78px;width:40.77px;height:24.96px;line-height:24.96px"><span style="transform:scaleX(0.91)">5.28</span></div>
<div class="c r" style="left:353.79px;top:411.78px;width:40.77px;height:24.96px;line-height:24.96px"><span style="transform:scaleX(0.91)">5.22</span></div>
<div class="c d" style="left:394.56px;top:411.78px;width:40.77px;height:24.96px;line-height:24.96px"><span style="transform:scaleX(0.91)">7.12</span></div>
<div class="c r" style="left:435.33px;top:411.78px;width:40.77px;height:24.96px;line-height:24.96px"><span style="transform:scaleX(0.91)">7.04</span></div>
<div class="c d" style="left:476.10px;top:411.78px;width:40.77px;height:24.96px;line-height:24.96px"><span style="transform:scaleX(0.91)">8.90</span></div>
<div class="c r" style="left:516.87px;top:411.78px;width:40.77px;height:24.96px;line-height:24.96px"><span style="transform:scaleX(0.91)">8.80</span></div>
<div class="c d k" style="left:557.64px;top:411.78px;width:40.77px;height:24.96px;line-height:24.96px"><span style="transform:scaleX(0.68)">10.80</span></div>
<div class="c r k" style="left:598.41px;top:411.78px;width:40.77px;height:24.96px;line-height:24.96px"><span style="transform:scaleX(0.68)">10.56</span></div>
<div class="c d k" style="left:639.18px;top:411.78px;width:40.77px;height:24.96px;line-height:24.96px"><span style="transform:scaleX(0.68)">12.60</span></div>
<div class="c r k" style="left:679.95px;top:411.78px;width:40.77px;height:24.96px;line-height:24.96px"><span style="transform:scaleX(0.68)">12.32</span></div>
<div class="c d k" style="left:720.72px;top:411.78px;width:40.77px;height:24.96px;line-height:24.96px"><span style="transform:scaleX(0.68)">14.40</span></div>
<div class="c r k" style="left:761.49px;top:411.78px;width:40.77px;height:24.96px;line-height:24.96px"><span style="transform:scaleX(0.68)">14.08</span></div>
<div class="c di" style="left:13.10px;top:436.74px;width:54.40px;height:24.96px;line-height:24.96px"><span style="transform:scaleX(0.95)">800</span></div>
<div class="c d" style="left:68.40px;top:436.74px;width:40.77px;height:24.96px;line-height:24.96px"><span style="transform:scaleX(0.91)">2.30</span></div>
<div class="c r" style="left:109.17px;top:436.74px;width:40.77px;height:24.96px;line-height:24.96px"><span style="transform:scaleX(0.91)">2.20</span></div>
<div class="c d" style="left:149.94px;top:436.74px;width:40.77px;height:24.96px;line-height:24.96px"><span style="transform:scaleX(0.91)">3.10</span></div>
<div class="c r" style="left:190.71px;top:436.74px;width:40.77px;height:24.96px;line-height:24.96px"><span style="transform:scaleX(0.91)">3.00</span></div>
<div class="c d" style="left:231.48px;top:436.74px;width:40.77px;height:24.96px;line-height:24.96px"><span style="transform:scaleX(0.91)">4.10</span></div>
<div class="c r" style="left:272.25px;top:436.74px;width:40.77px;height:24.96px;line-height:24.96px"><span style="transform:scaleX(0.91)">4.00</span></div>
<div class="c d" style="left:313.02px;top:436.74px;width:40.77px;height:24.96px;line-height:24.96px"><span style="transform:scaleX(0.91)">5.28</span></div>
<div class="c r" style="left:353.79px;top:436.74px;width:40.77px;height:24.96px;line-height:24.96px"><span style="transform:scaleX(0.91)">5.22</span></div>
<div class="c d" style="left:394.56px;top:436.74px;width:40.77px;height:24.96px;line-height:24.96px"><span style="transform:scaleX(0.91)">7.12</span></div>
<div class="c r" style="left:435.33px;top:436.74px;width:40.77px;height:24.96px;line-height:24.96px"><span style="transform:scaleX(0.91)">7.04</span></div>
<div class="c d" style="left:476.10px;top:436.74px;width:40.77px;height:24.96px;line-height:24.96px"><span style="transform:scaleX(0.91)">8.90</span></div>
<div class="c r" style="left:516.87px;top:436.74px;width:40.77px;height:24.96px;line-height:24.96px"><span style="transform:scaleX(0.91)">8.80</span></div>
<div class="c d k" style="left:557.64px;top:436.74px;width:40.77px;height:24.96px;line-height:24.96px"><span style="transform:scaleX(0.68)">10.80</span></div>
<div class="c r k" style="left:598.41px;top:436.74px;width:40.77px;height:24.96px;line-height:24.96px"><span style="transform:scaleX(0.68)">10.56</span></div>
<div class="c d k" style="left:639.18px;top:436.74px;width:40.77px;height:24.96px;line-height:24.96px"><span style="transform:scaleX(0.68)">12.60</span></div>
<div class="c r k" style="left:679.95px;top:436.74px;width:40.77px;height:24.96px;line-height:24.96px"><span style="transform:scaleX(0.68)">12.32</span></div>
<div class="c d k" style="left:720.72px;top:436.74px;width:40.77px;height:24.96px;line-height:24.96px"><span style="transform:scaleX(0.68)">14.40</span></div>
<div class="c r k" style="left:761.49px;top:436.74px;width:40.77px;height:24.96px;line-height:24.96px"><span style="transform:scaleX(0.68)">14.08</span></div>
<div class="c di" style="left:13.10px;top:461.70px;width:54.40px;height:24.96px;line-height:24.96px"><span style="transform:scaleX(0.95)">850</span></div>
<div class="c d" style="left:68.40px;top:461.70px;width:40.77px;height:24.96px;line-height:24.96px"><span style="transform:scaleX(0.91)">2.30</span></div>
<div class="c r" style="left:109.17px;top:461.70px;width:40.77px;height:24.96px;line-height:24.96px"><span style="transform:scaleX(0.91)">2.20</span></div>
<div class="c d" style="left:149.94px;top:461.70px;width:40.77px;height:24.96px;line-height:24.96px"><span style="transform:scaleX(0.91)">3.10</span></div>
<div class="c r" style="left:190.71px;top:461.70px;width:40.77px;height:24.96px;line-height:24.96px"><span style="transform:scaleX(0.91)">3.00</span></div>
<div class="c d" style="left:231.48px;top:461.70px;width:40.77px;height:24.96px;line-height:24.96px"><span style="transform:scaleX(0.91)">4.10</span></div>
<div class="c r" style="left:272.25px;top:461.70px;width:40.77px;height:24.96px;line-height:24.96px"><span style="transform:scaleX(0.91)">4.00</span></div>
<div class="c d" style="left:313.02px;top:461.70px;width:40.77px;height:24.96px;line-height:24.96px"><span style="transform:scaleX(0.91)">5.28</span></div>
<div class="c r" style="left:353.79px;top:461.70px;width:40.77px;height:24.96px;line-height:24.96px"><span style="transform:scaleX(0.91)">5.22</span></div>
<div class="c d" style="left:394.56px;top:461.70px;width:40.77px;height:24.96px;line-height:24.96px"><span style="transform:scaleX(0.91)">7.12</span></div>
<div class="c r" style="left:435.33px;top:461.70px;width:40.77px;height:24.96px;line-height:24.96px"><span style="transform:scaleX(0.91)">7.04</span></div>
<div class="c d" style="left:476.10px;top:461.70px;width:40.77px;height:24.96px;line-height:24.96px"><span style="transform:scaleX(0.91)">8.90</span></div>
<div class="c r" style="left:516.87px;top:461.70px;width:40.77px;height:24.96px;line-height:24.96px"><span style="transform:scaleX(0.91)">8.80</span></div>
<div class="c d k" style="left:557.64px;top:461.70px;width:40.77px;height:24.96px;line-height:24.96px"><span style="transform:scaleX(0.68)">10.80</span></div>
<div class="c r k" style="left:598.41px;top:461.70px;width:40.77px;height:24.96px;line-height:24.96px"><span style="transform:scaleX(0.68)">10.56</span></div>
<div class="c d k" style="left:639.18px;top:461.70px;width:40.77px;height:24.96px;line-height:24.96px"><span style="transform:scaleX(0.68)">12.60</span></div>
<div class="c r k" style="left:679.95px;top:461.70px;width:40.77px;height:24.96px;line-height:24.96px"><span style="transform:scaleX(0.68)">12.32</span></div>
<div class="c d k" style="left:720.72px;top:461.70px;width:40.77px;height:24.96px;line-height:24.96px"><span style="transform:scaleX(0.68)">14.40</span></div>
<div class="c r k" style="left:761.49px;top:461.70px;width:40.77px;height:24.96px;line-height:24.96px"><span style="transform:scaleX(0.68)">14.08</span></div>
<div class="c di" style="left:13.10px;top:486.67px;width:54.40px;height:24.96px;line-height:24.96px"><span style="transform:scaleX(0.95)">900</span></div>
<div class="c d" style="left:68.40px;top:486.67px;width:40.77px;height:24.96px;line-height:24.96px"><span style="transform:scaleX(0.91)">2.30</span></div>
<div class="c r" style="left:109.17px;top:486.67px;width:40.77px;height:24.96px;line-height:24.96px"><span style="transform:scaleX(0.91)">2.20</span></div>
<div class="c d" style="left:149.94px;top:486.67px;width:40.77px;height:24.96px;line-height:24.96px"><span style="transform:scaleX(0.91)">3.10</span></div>
<div class="c r" style="left:190.71px;top:486.67px;width:40.77px;height:24.96px;line-height:24.96px"><span style="transform:scaleX(0.91)">3.00</span></div>
<div class="c d" style="left:231.48px;top:486.67px;width:40.77px;height:24.96px;line-height:24.96px"><span style="transform:scaleX(0.91)">4.10</span></div>
<div class="c r" style="left:272.25px;top:486.67px;width:40.77px;height:24.96px;line-height:24.96px"><span style="transform:scaleX(0.91)">4.00</span></div>
<div class="c d" style="left:313.02px;top:486.67px;width:40.77px;height:24.96px;line-height:24.96px"><span style="transform:scaleX(0.91)">5.28</span></div>
<div class="c r" style="left:353.79px;top:486.67px;width:40.77px;height:24.96px;line-height:24.96px"><span style="transform:scaleX(0.91)">5.22</span></div>
<div class="c d" style="left:394.56px;top:486.67px;width:40.77px;height:24.96px;line-height:24.96px"><span style="transform:scaleX(0.91)">7.12</span></div>
<div class="c r" style="left:435.33px;top:486.67px;width:40.77px;height:24.96px;line-height:24.96px"><span style="transform:scaleX(0.91)">7.04</span></div>
<div class="c d" style="left:476.10px;top:486.67px;width:40.77px;height:24.96px;line-height:24.96px"><span style="transform:scaleX(0.91)">8.90</span></div>
<div class="c r" style="left:516.87px;top:486.67px;width:40.77px;height:24.96px;line-height:24.96px"><span style="transform:scaleX(0.91)">8.80</span></div>
<div class="c d k" style="left:557.64px;top:486.67px;width:40.77px;height:24.96px;line-height:24.96px"><span style="transform:scaleX(0.68)">10.80</span></div>
<div class="c r k" style="left:598.41px;top:486.67px;width:40.77px;height:24.96px;line-height:24.96px"><span style="transform:scaleX(0.68)">10.56</span></div>
<div class="c d k" style="left:639.18px;top:486.67px;width:40.77px;height:24.96px;line-height:24.96px"><span style="transform:scaleX(0.68)">12.60</span></div>
<div class="c r k" style="left:679.95px;top:486.67px;width:40.77px;height:24.96px;line-height:24.96px"><span style="transform:scaleX(0.68)">12.32</span></div>
<div class="c d k" style="left:720.72px;top:486.67px;width:40.77px;height:24.96px;line-height:24.96px"><span style="transform:scaleX(0.68)">14.40</span></div>
<div class="c r k" style="left:761.49px;top:486.67px;width:40.77px;height:24.96px;line-height:24.96px"><span style="transform:scaleX(0.68)">14.08</span></div>
<div class="c di" style="left:13.10px;top:511.63px;width:54.40px;height:24.96px;line-height:24.96px"><span style="transform:scaleX(0.95)">950</span></div>
<div class="c d" style="left:68.40px;top:511.63px;width:40.77px;height:24.96px;line-height:24.96px"><span style="transform:scaleX(0.91)">2.30</span></div>
<div class="c r" style="left:109.17px;top:511.63px;width:40.77px;height:24.96px;line-height:24.96px"><span style="transform:scaleX(0.91)">2.20</span></div>
<div class="c d" style="left:149.94px;top:511.63px;width:40.77px;height:24.96px;line-height:24.96px"><span style="transform:scaleX(0.91)">3.10</span></div>
<div class="c r" style="left:190.71px;top:511.63px;width:40.77px;height:24.96px;line-height:24.96px"><span style="transform:scaleX(0.91)">3.00</span></div>
<div class="c d" style="left:231.48px;top:511.63px;width:40.77px;height:24.96px;line-height:24.96px"><span style="transform:scaleX(0.91)">4.10</span></div>
<div class="c r" style="left:272.25px;top:511.63px;width:40.77px;height:24.96px;line-height:24.96px"><span style="transform:scaleX(0.91)">4.00</span></div>
<div class="c d" style="left:313.02px;top:511.63px;width:40.77px;height:24.96px;line-height:24.96px"><span style="transform:scaleX(0.91)">5.28</span></div>
<div class="c r" style="left:353.79px;top:511.63px;width:40.77px;height:24.96px;line-height:24.96px"><span style="transform:scaleX(0.91)">5.22</span></div>
<div class="c d" style="left:394.56px;top:511.63px;width:40.77px;height:24.96px;line-height:24.96px"><span style="transform:scaleX(0.91)">7.12</span></div>
<div class="c r" style="left:435.33px;top:511.63px;width:40.77px;height:24.96px;line-height:24.96px"><span style="transform:scaleX(0.91)">7.04</span></div>
<div class="c d" style="left:476.10px;top:511.63px;width:40.77px;height:24.96px;line-height:24.96px"><span style="transform:scaleX(0.91)">8.90</span></div>
<div class="c r" style="left:516.87px;top:511.63px;width:40.77px;height:24.96px;line-height:24.96px"><span style="transform:scaleX(0.91)">8.80</span></div>
<div class="c d k" style="left:557.64px;top:511.63px;width:40.77px;height:24.96px;line-height:24.96px"><span style="transform:scaleX(0.68)">10.80</span></div>
<div class="c r k" style="left:598.41px;top:511.63px;width:40.77px;height:24.96px;line-height:24.96px"><span style="transform:scaleX(0.68)">10.56</span></div>
<div class="c d k" style="left:639.18px;top:511.63px;width:40.77px;height:24.96px;line-height:24.96px"><span style="transform:scaleX(0.68)">12.60</span></div>
<div class="c r k" style="left:679.95px;top:511.63px;width:40.77px;height:24.96px;line-height:24.96px"><span style="transform:scaleX(0.68)">12.32</span></div>
<div class="c d k" style="left:720.72px;top:511.63px;width:40.77px;height:24.96px;line-height:24.96px"><span style="transform:scaleX(0.68)">14.40</span></div>
<div class="c r k" style="left:761.49px;top:511.63px;width:40.77px;height:24.96px;line-height:24.96px"><span style="transform:scaleX(0.68)">14.08</span></div>
<div class="c di" style="left:13.10px;top:536.59px;width:54.40px;height:24.96px;line-height:24.96px"><span style="transform:scaleX(0.95)">1000</span></div>
<div class="c d" style="left:68.40px;top:536.59px;width:40.77px;height:24.96px;line-height:24.96px"><span style="transform:scaleX(0.91)">2.30</span></div>
<div class="c r" style="left:109.17px;top:536.59px;width:40.77px;height:24.96px;line-height:24.96px"><span style="transform:scaleX(0.91)">2.20</span></div>
<div class="c d" style="left:149.94px;top:536.59px;width:40.77px;height:24.96px;line-height:24.96px"><span style="transform:scaleX(0.91)">3.10</span></div>
<div class="c r" style="left:190.71px;top:536.59px;width:40.77px;height:24.96px;line-height:24.96px"><span style="transform:scaleX(0.91)">3.00</span></div>
<div class="c d" style="left:231.48px;top:536.59px;width:40.77px;height:24.96px;line-height:24.96px"><span style="transform:scaleX(0.91)">4.10</span></div>
<div class="c r" style="left:272.25px;top:536.59px;width:40.77px;height:24.96px;line-height:24.96px"><span style="transform:scaleX(0.91)">4.00</span></div>
<div class="c d" style="left:313.02px;top:536.59px;width:40.77px;height:24.96px;line-height:24.96px"><span style="transform:scaleX(0.91)">5.22</span></div>
<div class="c r" style="left:353.79px;top:536.59px;width:40.77px;height:24.96px;line-height:24.96px"><span style="transform:scaleX(0.91)">5.16</span></div>
<div class="c d" style="left:394.56px;top:536.59px;width:40.77px;height:24.96px;line-height:24.96px"><span style="transform:scaleX(0.91)">7.12</span></div>
<div class="c r" style="left:435.33px;top:536.59px;width:40.77px;height:24.96px;line-height:24.96px"><span style="transform:scaleX(0.91)">6.96</span></div>
<div class="c d" style="left:476.10px;top:536.59px;width:40.77px;height:24.96px;line-height:24.96px"><span style="transform:scaleX(0.91)">8.90</span></div>
<div class="c r" style="left:516.87px;top:536.59px;width:40.77px;height:24.96px;line-height:24.96px"><span style="transform:scaleX(0.91)">8.70</span></div>
<div class="c d k" style="left:557.64px;top:536.59px;width:40.77px;height:24.96px;line-height:24.96px"><span style="transform:scaleX(0.68)">10.68</span></div>
<div class="c r k" style="left:598.41px;top:536.59px;width:40.77px;height:24.96px;line-height:24.96px"><span style="transform:scaleX(0.68)">10.56</span></div>
<div class="c d k" style="left:639.18px;top:536.59px;width:40.77px;height:24.96px;line-height:24.96px"><span style="transform:scaleX(0.68)">12.46</span></div>
<div class="c r k" style="left:679.95px;top:536.59px;width:40.77px;height:24.96px;line-height:24.96px"><span style="transform:scaleX(0.68)">12.32</span></div>
<div class="c d k" style="left:720.72px;top:536.59px;width:40.77px;height:24.96px;line-height:24.96px"><span style="transform:scaleX(0.68)">14.24</span></div>
<div class="c r k" style="left:761.49px;top:536.59px;width:40.77px;height:24.96px;line-height:24.96px"><span style="transform:scaleX(0.68)">14.08</span></div>
<div class="c d k" style="left:802.26px;top:536.59px;width:40.77px;height:24.96px;line-height:24.96px"><span style="transform:scaleX(0.68)">16.02</span></div>
<div class="c r k" style="left:843.03px;top:536.59px;width:40.77px;height:24.96px;line-height:24.96px"><span style="transform:scaleX(0.68)">15.84</span></div>
<div class="c di" style="left:13.10px;top:561.55px;width:54.40px;height:24.96px;line-height:24.96px"><span style="transform:scaleX(0.95)">1050</span></div>
<div class="c d" style="left:68.40px;top:561.55px;width:40.77px;height:24.96px;line-height:24.96px"><span style="transform:scaleX(0.91)">2.30</span></div>
<div class="c r" style="left:109.17px;top:561.55px;width:40.77px;height:24.96px;line-height:24.96px"><span style="transform:scaleX(0.91)">2.20</span></div>
<div class="c d" style="left:149.94px;top:561.55px;width:40.77px;height:24.96px;line-height:24.96px"><span style="transform:scaleX(0.91)">3.10</span></div>
<div class="c r" style="left:190.71px;top:561.55px;width:40.77px;height:24.96px;line-height:24.96px"><span style="transform:scaleX(0.91)">3.00</span></div>
<div class="c d" style="left:231.48px;top:561.55px;width:40.77px;height:24.96px;line-height:24.96px"><span style="transform:scaleX(0.91)">4.10</span></div>
<div class="c r" style="left:272.25px;top:561.55px;width:40.77px;height:24.96px;line-height:24.96px"><span style="transform:scaleX(0.91)">4.00</span></div>
<div class="c d" style="left:313.02px;top:561.55px;width:40.77px;height:24.96px;line-height:24.96px"><span style="transform:scaleX(0.91)">5.22</span></div>
<div class="c r" style="left:353.79px;top:561.55px;width:40.77px;height:24.96px;line-height:24.96px"><span style="transform:scaleX(0.91)">5.16</span></div>
<div class="c d" style="left:394.56px;top:561.55px;width:40.77px;height:24.96px;line-height:24.96px"><span style="transform:scaleX(0.91)">7.12</span></div>
<div class="c r" style="left:435.33px;top:561.55px;width:40.77px;height:24.96px;line-height:24.96px"><span style="transform:scaleX(0.91)">6.96</span></div>
<div class="c d" style="left:476.10px;top:561.55px;width:40.77px;height:24.96px;line-height:24.96px"><span style="transform:scaleX(0.91)">8.90</span></div>
<div class="c r" style="left:516.87px;top:561.55px;width:40.77px;height:24.96px;line-height:24.96px"><span style="transform:scaleX(0.91)">8.70</span></div>
<div class="c d k" style="left:557.64px;top:561.55px;width:40.77px;height:24.96px;line-height:24.96px"><span style="transform:scaleX(0.68)">10.68</span></div>
<div class="c r k" style="left:598.41px;top:561.55px;width:40.77px;height:24.96px;line-height:24.96px"><span style="transform:scaleX(0.68)">10.56</span></div>
<div class="c d k" style="left:639.18px;top:561.55px;width:40.77px;height:24.96px;line-height:24.96px"><span style="transform:scaleX(0.68)">12.46</span></div>
<div class="c r k" style="left:679.95px;top:561.55px;width:40.77px;height:24.96px;line-height:24.96px"><span style="transform:scaleX(0.68)">12.32</span></div>
<div class="c d k" style="left:720.72px;top:561.55px;width:40.77px;height:24.96px;line-height:24.96px"><span style="transform:scaleX(0.68)">14.24</span></div>
<div class="c r k" style="left:761.49px;top:561.55px;width:40.77px;height:24.96px;line-height:24.96px"><span style="transform:scaleX(0.68)">14.08</span></div>
<div class="c d k" style="left:802.26px;top:561.55px;width:40.77px;height:24.96px;line-height:24.96px"><span style="transform:scaleX(0.68)">16.02</span></div>
<div class="c r k" style="left:843.03px;top:561.55px;width:40.77px;height:24.96px;line-height:24.96px"><span style="transform:scaleX(0.68)">15.84</span></div>
<div class="c di" style="left:13.10px;top:586.51px;width:54.40px;height:24.96px;line-height:24.96px"><span style="transform:scaleX(0.95)">1100</span></div>
<div class="c d" style="left:68.40px;top:586.51px;width:40.77px;height:24.96px;line-height:24.96px"><span style="transform:scaleX(0.91)">2.30</span></div>
<div class="c r" style="left:109.17px;top:586.51px;width:40.77px;height:24.96px;line-height:24.96px"><span style="transform:scaleX(0.91)">2.20</span></div>
<div class="c d" style="left:149.94px;top:586.51px;width:40.77px;height:24.96px;line-height:24.96px"><span style="transform:scaleX(0.91)">3.10</span></div>
<div class="c r" style="left:190.71px;top:586.51px;width:40.77px;height:24.96px;line-height:24.96px"><span style="transform:scaleX(0.91)">3.00</span></div>
<div class="c d" style="left:231.48px;top:586.51px;width:40.77px;height:24.96px;line-height:24.96px"><span style="transform:scaleX(0.91)">4.10</span></div>
<div class="c r" style="left:272.25px;top:586.51px;width:40.77px;height:24.96px;line-height:24.96px"><span style="transform:scaleX(0.91)">4.00</span></div>
<div class="c d" style="left:313.02px;top:586.51px;width:40.77px;height:24.96px;line-height:24.96px"><span style="transform:scaleX(0.91)">5.22</span></div>
<div class="c r" style="left:353.79px;top:586.51px;width:40.77px;height:24.96px;line-height:24.96px"><span style="transform:scaleX(0.91)">5.16</span></div>
<div class="c d" style="left:394.56px;top:586.51px;width:40.77px;height:24.96px;line-height:24.96px"><span style="transform:scaleX(0.91)">7.12</span></div>
<div class="c r" style="left:435.33px;top:586.51px;width:40.77px;height:24.96px;line-height:24.96px"><span style="transform:scaleX(0.91)">6.96</span></div>
<div class="c d" style="left:476.10px;top:586.51px;width:40.77px;height:24.96px;line-height:24.96px"><span style="transform:scaleX(0.91)">8.90</span></div>
<div class="c r" style="left:516.87px;top:586.51px;width:40.77px;height:24.96px;line-height:24.96px"><span style="transform:scaleX(0.91)">8.70</span></div>
<div class="c d k" style="left:557.64px;top:586.51px;width:40.77px;height:24.96px;line-height:24.96px"><span style="transform:scaleX(0.68)">10.68</span></div>
<div class="c r k" style="left:598.41px;top:586.51px;width:40.77px;height:24.96px;line-height:24.96px"><span style="transform:scaleX(0.68)">10.56</span></div>
<div class="c d k" style="left:639.18px;top:586.51px;width:40.77px;height:24.96px;line-height:24.96px"><span style="transform:scaleX(0.68)">12.46</span></div>
<div class="c r k" style="left:679.95px;top:586.51px;width:40.77px;height:24.96px;line-height:24.96px"><span style="transform:scaleX(0.68)">12.32</span></div>
<div class="c d k" style="left:720.72px;top:586.51px;width:40.77px;height:24.96px;line-height:24.96px"><span style="transform:scaleX(0.68)">14.24</span></div>
<div class="c r k" style="left:761.49px;top:586.51px;width:40.77px;height:24.96px;line-height:24.96px"><span style="transform:scaleX(0.68)">14.08</span></div>
<div class="c d k" style="left:802.26px;top:586.51px;width:40.77px;height:24.96px;line-height:24.96px"><span style="transform:scaleX(0.68)">16.02</span></div>
<div class="c r k" style="left:843.03px;top:586.51px;width:40.77px;height:24.96px;line-height:24.96px"><span style="transform:scaleX(0.68)">15.84</span></div>
<div class="c di" style="left:13.10px;top:611.48px;width:54.40px;height:24.96px;line-height:24.96px"><span style="transform:scaleX(0.95)">1150</span></div>
<div class="c d" style="left:68.40px;top:611.48px;width:40.77px;height:24.96px;line-height:24.96px"><span style="transform:scaleX(0.91)">2.30</span></div>
<div class="c r" style="left:109.17px;top:611.48px;width:40.77px;height:24.96px;line-height:24.96px"><span style="transform:scaleX(0.91)">2.20</span></div>
<div class="c d" style="left:149.94px;top:611.48px;width:40.77px;height:24.96px;line-height:24.96px"><span style="transform:scaleX(0.91)">3.10</span></div>
<div class="c r" style="left:190.71px;top:611.48px;width:40.77px;height:24.96px;line-height:24.96px"><span style="transform:scaleX(0.91)">3.00</span></div>
<div class="c d" style="left:231.48px;top:611.48px;width:40.77px;height:24.96px;line-height:24.96px"><span style="transform:scaleX(0.91)">4.10</span></div>
<div class="c r" style="left:272.25px;top:611.48px;width:40.77px;height:24.96px;line-height:24.96px"><span style="transform:scaleX(0.91)">4.00</span></div>
<div class="c d" style="left:313.02px;top:611.48px;width:40.77px;height:24.96px;line-height:24.96px"><span style="transform:scaleX(0.91)">5.22</span></div>
<div class="c r" style="left:353.79px;top:611.48px;width:40.77px;height:24.96px;line-height:24.96px"><span style="transform:scaleX(0.91)">5.16</span></div>
<div class="c d" style="left:394.56px;top:611.48px;width:40.77px;height:24.96px;line-height:24.96px"><span style="transform:scaleX(0.91)">7.12</span></div>
<div class="c r" style="left:435.33px;top:611.48px;width:40.77px;height:24.96px;line-height:24.96px"><span style="transform:scaleX(0.91)">6.96</span></div>
<div class="c d" style="left:476.10px;top:611.48px;width:40.77px;height:24.96px;line-height:24.96px"><span style="transform:scaleX(0.91)">8.90</span></div>
<div class="c r" style="left:516.87px;top:611.48px;width:40.77px;height:24.96px;line-height:24.96px"><span style="transform:scaleX(0.91)">8.70</span></div>
<div class="c d k" style="left:557.64px;top:611.48px;width:40.77px;height:24.96px;line-height:24.96px"><span style="transform:scaleX(0.68)">10.68</span></div>
<div class="c r k" style="left:598.41px;top:611.48px;width:40.77px;height:24.96px;line-height:24.96px"><span style="transform:scaleX(0.68)">10.56</span></div>
<div class="c d k" style="left:639.18px;top:611.48px;width:40.77px;height:24.96px;line-height:24.96px"><span style="transform:scaleX(0.68)">12.46</span></div>
<div class="c r k" style="left:679.95px;top:611.48px;width:40.77px;height:24.96px;line-height:24.96px"><span style="transform:scaleX(0.68)">12.32</span></div>
<div class="c d k" style="left:720.72px;top:611.48px;width:40.77px;height:24.96px;line-height:24.96px"><span style="transform:scaleX(0.68)">14.24</span></div>
<div class="c r k" style="left:761.49px;top:611.48px;width:40.77px;height:24.96px;line-height:24.96px"><span style="transform:scaleX(0.68)">14.08</span></div>
<div class="c d k" style="left:802.26px;top:611.48px;width:40.77px;height:24.96px;line-height:24.96px"><span style="transform:scaleX(0.68)">16.02</span></div>
<div class="c r k" style="left:843.03px;top:611.48px;width:40.77px;height:24.96px;line-height:24.96px"><span style="transform:scaleX(0.68)">15.84</span></div>
<div class="c di" style="left:13.10px;top:636.44px;width:54.40px;height:24.96px;line-height:24.96px"><span style="transform:scaleX(0.95)">1200</span></div>
<div class="c d" style="left:68.40px;top:636.44px;width:40.77px;height:24.96px;line-height:24.96px"><span style="transform:scaleX(0.91)">2.30</span></div>
<div class="c r" style="left:109.17px;top:636.44px;width:40.77px;height:24.96px;line-height:24.96px"><span style="transform:scaleX(0.91)">2.20</span></div>
<div class="c d" style="left:149.94px;top:636.44px;width:40.77px;height:24.96px;line-height:24.96px"><span style="transform:scaleX(0.91)">3.10</span></div>
<div class="c r" style="left:190.71px;top:636.44px;width:40.77px;height:24.96px;line-height:24.96px"><span style="transform:scaleX(0.91)">3.00</span></div>
<div class="c d" style="left:231.48px;top:636.44px;width:40.77px;height:24.96px;line-height:24.96px"><span style="transform:scaleX(0.91)">4.10</span></div>
<div class="c r" style="left:272.25px;top:636.44px;width:40.77px;height:24.96px;line-height:24.96px"><span style="transform:scaleX(0.91)">4.00</span></div>
<div class="c d" style="left:313.02px;top:636.44px;width:40.77px;height:24.96px;line-height:24.96px"><span style="transform:scaleX(0.91)">5.22</span></div>
<div class="c r" style="left:353.79px;top:636.44px;width:40.77px;height:24.96px;line-height:24.96px"><span style="transform:scaleX(0.91)">5.16</span></div>
<div class="c d" style="left:394.56px;top:636.44px;width:40.77px;height:24.96px;line-height:24.96px"><span style="transform:scaleX(0.91)">7.12</span></div>
<div class="c r" style="left:435.33px;top:636.44px;width:40.77px;height:24.96px;line-height:24.96px"><span style="transform:scaleX(0.91)">6.96</span></div>
<div class="c d" style="left:476.10px;top:636.44px;width:40.77px;height:24.96px;line-height:24.96px"><span style="transform:scaleX(0.91)">8.90</span></div>
<div class="c r" style="left:516.87px;top:636.44px;width:40.77px;height:24.96px;line-height:24.96px"><span style="transform:scaleX(0.91)">8.70</span></div>
<div class="c d k" style="left:557.64px;top:636.44px;width:40.77px;height:24.96px;line-height:24.96px"><span style="transform:scaleX(0.68)">10.68</span></div>
<div class="c r k" style="left:598.41px;top:636.44px;width:40.77px;height:24.96px;line-height:24.96px"><span style="transform:scaleX(0.68)">10.56</span></div>
<div class="c d k" style="left:639.18px;top:636.44px;width:40.77px;height:24.96px;line-height:24.96px"><span style="transform:scaleX(0.68)">12.46</span></div>
<div class="c r k" style="left:679.95px;top:636.44px;width:40.77px;height:24.96px;line-height:24.96px"><span style="transform:scaleX(0.68)">12.32</span></div>
<div class="c d k" style="left:720.72px;top:636.44px;width:40.77px;height:24.96px;line-height:24.96px"><span style="transform:scaleX(0.68)">14.24</span></div>
<div class="c r k" style="left:761.49px;top:636.44px;width:40.77px;height:24.96px;line-height:24.96px"><span style="transform:scaleX(0.68)">14.08</span></div>
<div class="c d k" style="left:802.26px;top:636.44px;width:40.77px;height:24.96px;line-height:24.96px"><span style="transform:scaleX(0.68)">16.02</span></div>
<div class="c r k" style="left:843.03px;top:636.44px;width:40.77px;height:24.96px;line-height:24.96px"><span style="transform:scaleX(0.68)">15.84</span></div>
<div class="c d k" style="left:883.80px;top:636.44px;width:40.77px;height:24.96px;line-height:24.96px"><span style="transform:scaleX(0.68)">17.80</span></div>
<div class="c r k" style="left:924.57px;top:636.44px;width:40.77px;height:24.96px;line-height:24.96px"><span style="transform:scaleX(0.68)">17.60</span></div>
<div class="c di" style="left:13.10px;top:661.40px;width:54.40px;height:24.96px;line-height:24.96px"><span style="transform:scaleX(0.95)">1250</span></div>
<div class="c d" style="left:68.40px;top:661.40px;width:40.77px;height:24.96px;line-height:24.96px"><span style="transform:scaleX(0.91)">2.20</span></div>
<div class="c r" style="left:109.17px;top:661.40px;width:40.77px;height:24.96px;line-height:24.96px"><span style="transform:scaleX(0.91)">2.10</span></div>
<div class="c d" style="left:149.94px;top:661.40px;width:40.77px;height:24.96px;line-height:24.96px"><span style="transform:scaleX(0.91)">3.00</span></div>
<div class="c r" style="left:190.71px;top:661.40px;width:40.77px;height:24.96px;line-height:24.96px"><span style="transform:scaleX(0.91)">2.90</span></div>
<div class="c d" style="left:231.48px;top:661.40px;width:40.77px;height:24.96px;line-height:24.96px"><span style="transform:scaleX(0.91)">4.00</span></div>
<div class="c r" style="left:272.25px;top:661.40px;width:40.77px;height:24.96px;line-height:24.96px"><span style="transform:scaleX(0.91)">3.90</span></div>
<div class="c d" style="left:313.02px;top:661.40px;width:40.77px;height:24.96px;line-height:24.96px"><span style="transform:scaleX(0.91)">5.22</span></div>
<div class="c r" style="left:353.79px;top:661.40px;width:40.77px;height:24.96px;line-height:24.96px"><span style="transform:scaleX(0.91)">5.16</span></div>
<div class="c d" style="left:394.56px;top:661.40px;width:40.77px;height:24.96px;line-height:24.96px"><span style="transform:scaleX(0.91)">7.12</span></div>
<div class="c r" style="left:435.33px;top:661.40px;width:40.77px;height:24.96px;line-height:24.96px"><span style="transform:scaleX(0.91)">6.96</span></div>
<div class="c d" style="left:476.10px;top:661.40px;width:40.77px;height:24.96px;line-height:24.96px"><span style="transform:scaleX(0.91)">8.90</span></div>
<div class="c r" style="left:516.87px;top:661.40px;width:40.77px;height:24.96px;line-height:24.96px"><span style="transform:scaleX(0.91)">8.70</span></div>
<div class="c d k" style="left:557.64px;top:661.40px;width:40.77px;height:24.96px;line-height:24.96px"><span style="transform:scaleX(0.68)">10.68</span></div>
<div class="c r k" style="left:598.41px;top:661.40px;width:40.77px;height:24.96px;line-height:24.96px"><span style="transform:scaleX(0.68)">10.56</span></div>
<div class="c d k" style="left:639.18px;top:661.40px;width:40.77px;height:24.96px;line-height:24.96px"><span style="transform:scaleX(0.68)">12.46</span></div>
<div class="c r k" style="left:679.95px;top:661.40px;width:40.77px;height:24.96px;line-height:24.96px"><span style="transform:scaleX(0.68)">12.32</span></div>
<div class="c d k" style="left:720.72px;top:661.40px;width:40.77px;height:24.96px;line-height:24.96px"><span style="transform:scaleX(0.68)">14.24</span></div>
<div class="c r k" style="left:761.49px;top:661.40px;width:40.77px;height:24.96px;line-height:24.96px"><span style="transform:scaleX(0.68)">14.08</span></div>
<div class="c d k" style="left:802.26px;top:661.40px;width:40.77px;height:24.96px;line-height:24.96px"><span style="transform:scaleX(0.68)">16.02</span></div>
<div class="c r k" style="left:843.03px;top:661.40px;width:40.77px;height:24.96px;line-height:24.96px"><span style="transform:scaleX(0.68)">15.84</span></div>
<div class="c d k" style="left:883.80px;top:661.40px;width:40.77px;height:24.96px;line-height:24.96px"><span style="transform:scaleX(0.68)">17.80</span></div>
<div class="c r k" style="left:924.57px;top:661.40px;width:40.77px;height:24.96px;line-height:24.96px"><span style="transform:scaleX(0.68)">17.60</span></div>
<div class="c di" style="left:13.10px;top:686.36px;width:54.40px;height:24.96px;line-height:24.96px"><span style="transform:scaleX(0.95)">1300</span></div>
<div class="c d" style="left:68.40px;top:686.36px;width:40.77px;height:24.96px;line-height:24.96px"><span style="transform:scaleX(0.91)">2.20</span></div>
<div class="c r" style="left:109.17px;top:686.36px;width:40.77px;height:24.96px;line-height:24.96px"><span style="transform:scaleX(0.91)">2.10</span></div>
<div class="c d" style="left:149.94px;top:686.36px;width:40.77px;height:24.96px;line-height:24.96px"><span style="transform:scaleX(0.91)">3.00</span></div>
<div class="c r" style="left:190.71px;top:686.36px;width:40.77px;height:24.96px;line-height:24.96px"><span style="transform:scaleX(0.91)">2.90</span></div>
<div class="c d" style="left:231.48px;top:686.36px;width:40.77px;height:24.96px;line-height:24.96px"><span style="transform:scaleX(0.91)">4.00</span></div>
<div class="c r" style="left:272.25px;top:686.36px;width:40.77px;height:24.96px;line-height:24.96px"><span style="transform:scaleX(0.91)">3.90</span></div>
<div class="c d" style="left:313.02px;top:686.36px;width:40.77px;height:24.96px;line-height:24.96px"><span style="transform:scaleX(0.91)">5.22</span></div>
<div class="c r" style="left:353.79px;top:686.36px;width:40.77px;height:24.96px;line-height:24.96px"><span style="transform:scaleX(0.91)">5.16</span></div>
<div class="c d" style="left:394.56px;top:686.36px;width:40.77px;height:24.96px;line-height:24.96px"><span style="transform:scaleX(0.91)">7.12</span></div>
<div class="c r" style="left:435.33px;top:686.36px;width:40.77px;height:24.96px;line-height:24.96px"><span style="transform:scaleX(0.91)">6.96</span></div>
<div class="c d" style="left:476.10px;top:686.36px;width:40.77px;height:24.96px;line-height:24.96px"><span style="transform:scaleX(0.91)">8.90</span></div>
<div class="c r" style="left:516.87px;top:686.36px;width:40.77px;height:24.96px;line-height:24.96px"><span style="transform:scaleX(0.91)">8.70</span></div>
<div class="c d k" style="left:557.64px;top:686.36px;width:40.77px;height:24.96px;line-height:24.96px"><span style="transform:scaleX(0.68)">10.68</span></div>
<div class="c r k" style="left:598.41px;top:686.36px;width:40.77px;height:24.96px;line-height:24.96px"><span style="transform:scaleX(0.68)">10.56</span></div>
<div class="c d k" style="left:639.18px;top:686.36px;width:40.77px;height:24.96px;line-height:24.96px"><span style="transform:scaleX(0.68)">12.46</span></div>
<div class="c r k" style="left:679.95px;top:686.36px;width:40.77px;height:24.96px;line-height:24.96px"><span style="transform:scaleX(0.68)">12.32</span></div>
<div class="c d k" style="left:720.72px;top:686.36px;width:40.77px;height:24.96px;line-height:24.96px"><span style="transform:scaleX(0.68)">14.24</span></div>
<div class="c r k" style="left:761.49px;top:686.36px;width:40.77px;height:24.96px;line-height:24.96px"><span style="transform:scaleX(0.68)">14.08</span></div>
<div class="c d k" style="left:802.26px;top:686.36px;width:40.77px;height:24.96px;line-height:24.96px"><span style="transform:scaleX(0.68)">16.02</span></div>
<div class="c r k" style="left:843.03px;top:686.36px;width:40.77px;height:24.96px;line-height:24.96px"><span style="transform:scaleX(0.68)">15.84</span></div>
<div class="c d k" style="left:883.80px;top:686.36px;width:40.77px;height:24.96px;line-height:24.96px"><span style="transform:scaleX(0.68)">17.80</span></div>
<div class="c r k" style="left:924.57px;top:686.36px;width:40.77px;height:24.96px;line-height:24.96px"><span style="transform:scaleX(0.68)">17.60</span></div>
<div class="c di" style="left:13.10px;top:711.32px;width:54.40px;height:24.96px;line-height:24.96px"><span style="transform:scaleX(0.95)">1350</span></div>
<div class="c d" style="left:68.40px;top:711.32px;width:40.77px;height:24.96px;line-height:24.96px"><span style="transform:scaleX(0.91)">2.20</span></div>
<div class="c r" style="left:109.17px;top:711.32px;width:40.77px;height:24.96px;line-height:24.96px"><span style="transform:scaleX(0.91)">2.10</span></div>
<div class="c d" style="left:149.94px;top:711.32px;width:40.77px;height:24.96px;line-height:24.96px"><span style="transform:scaleX(0.91)">3.00</span></div>
<div class="c r" style="left:190.71px;top:711.32px;width:40.77px;height:24.96px;line-height:24.96px"><span style="transform:scaleX(0.91)">2.90</span></div>
<div class="c d" style="left:231.48px;top:711.32px;width:40.77px;height:24.96px;line-height:24.96px"><span style="transform:scaleX(0.91)">4.00</span></div>
<div class="c r" style="left:272.25px;top:711.32px;width:40.77px;height:24.96px;line-height:24.96px"><span style="transform:scaleX(0.91)">3.90</span></div>
<div class="c d" style="left:313.02px;top:711.32px;width:40.77px;height:24.96px;line-height:24.96px"><span style="transform:scaleX(0.91)">5.22</span></div>
<div class="c r" style="left:353.79px;top:711.32px;width:40.77px;height:24.96px;line-height:24.96px"><span style="transform:scaleX(0.91)">5.16</span></div>
<div class="c d" style="left:394.56px;top:711.32px;width:40.77px;height:24.96px;line-height:24.96px"><span style="transform:scaleX(0.91)">7.12</span></div>
<div class="c r" style="left:435.33px;top:711.32px;width:40.77px;height:24.96px;line-height:24.96px"><span style="transform:scaleX(0.91)">6.96</span></div>
<div class="c d" style="left:476.10px;top:711.32px;width:40.77px;height:24.96px;line-height:24.96px"><span style="transform:scaleX(0.91)">8.90</span></div>
<div class="c r" style="left:516.87px;top:711.32px;width:40.77px;height:24.96px;line-height:24.96px"><span style="transform:scaleX(0.91)">8.70</span></div>
<div class="c d k" style="left:557.64px;top:711.32px;width:40.77px;height:24.96px;line-height:24.96px"><span style="transform:scaleX(0.68)">10.68</span></div>
<div class="c r k" style="left:598.41px;top:711.32px;width:40.77px;height:24.96px;line-height:24.96px"><span style="transform:scaleX(0.68)">10.56</span></div>
<div class="c d k" style="left:639.18px;top:711.32px;width:40.77px;height:24.96px;line-height:24.96px"><span style="transform:scaleX(0.68)">12.46</span></div>
<div class="c r k" style="left:679.95px;top:711.32px;width:40.77px;height:24.96px;line-height:24.96px"><span style="transform:scaleX(0.68)">12.32</span></div>
<div class="c d k" style="left:720.72px;top:711.32px;width:40.77px;height:24.96px;line-height:24.96px"><span style="transform:scaleX(0.68)">14.24</span></div>
<div class="c r k" style="left:761.49px;top:711.32px;width:40.77px;height:24.96px;line-height:24.96px"><span style="transform:scaleX(0.68)">14.08</span></div>
<div class="c d k" style="left:802.26px;top:711.32px;width:40.77px;height:24.96px;line-height:24.96px"><span style="transform:scaleX(0.68)">16.02</span></div>
<div class="c r k" style="left:843.03px;top:711.32px;width:40.77px;height:24.96px;line-height:24.96px"><span style="transform:scaleX(0.68)">15.84</span></div>
<div class="c d k" style="left:883.80px;top:711.32px;width:40.77px;height:24.96px;line-height:24.96px"><span style="transform:scaleX(0.68)">17.80</span></div>
<div class="c r k" style="left:924.57px;top:711.32px;width:40.77px;height:24.96px;line-height:24.96px"><span style="transform:scaleX(0.68)">17.60</span></div>
<div class="c di" style="left:13.10px;top:736.29px;width:54.40px;height:24.96px;line-height:24.96px"><span style="transform:scaleX(0.95)">1400</span></div>
<div class="c d" style="left:68.40px;top:736.29px;width:40.77px;height:24.96px;line-height:24.96px"><span style="transform:scaleX(0.91)">2.20</span></div>
<div class="c r" style="left:109.17px;top:736.29px;width:40.77px;height:24.96px;line-height:24.96px"><span style="transform:scaleX(0.91)">2.10</span></div>
<div class="c d" style="left:149.94px;top:736.29px;width:40.77px;height:24.96px;line-height:24.96px"><span style="transform:scaleX(0.91)">3.00</span></div>
<div class="c r" style="left:190.71px;top:736.29px;width:40.77px;height:24.96px;line-height:24.96px"><span style="transform:scaleX(0.91)">2.90</span></div>
<div class="c d" style="left:231.48px;top:736.29px;width:40.77px;height:24.96px;line-height:24.96px"><span style="transform:scaleX(0.91)">4.00</span></div>
<div class="c r" style="left:272.25px;top:736.29px;width:40.77px;height:24.96px;line-height:24.96px"><span style="transform:scaleX(0.91)">3.90</span></div>
<div class="c d" style="left:313.02px;top:736.29px;width:40.77px;height:24.96px;line-height:24.96px"><span style="transform:scaleX(0.91)">5.22</span></div>
<div class="c r" style="left:353.79px;top:736.29px;width:40.77px;height:24.96px;line-height:24.96px"><span style="transform:scaleX(0.91)">5.16</span></div>
<div class="c d" style="left:394.56px;top:736.29px;width:40.77px;height:24.96px;line-height:24.96px"><span style="transform:scaleX(0.91)">7.12</span></div>
<div class="c r" style="left:435.33px;top:736.29px;width:40.77px;height:24.96px;line-height:24.96px"><span style="transform:scaleX(0.91)">6.96</span></div>
<div class="c d" style="left:476.10px;top:736.29px;width:40.77px;height:24.96px;line-height:24.96px"><span style="transform:scaleX(0.91)">8.90</span></div>
<div class="c r" style="left:516.87px;top:736.29px;width:40.77px;height:24.96px;line-height:24.96px"><span style="transform:scaleX(0.91)">8.70</span></div>
<div class="c d k" style="left:557.64px;top:736.29px;width:40.77px;height:24.96px;line-height:24.96px"><span style="transform:scaleX(0.68)">10.68</span></div>
<div class="c r k" style="left:598.41px;top:736.29px;width:40.77px;height:24.96px;line-height:24.96px"><span style="transform:scaleX(0.68)">10.56</span></div>
<div class="c d k" style="left:639.18px;top:736.29px;width:40.77px;height:24.96px;line-height:24.96px"><span style="transform:scaleX(0.68)">12.46</span></div>
<div class="c r k" style="left:679.95px;top:736.29px;width:40.77px;height:24.96px;line-height:24.96px"><span style="transform:scaleX(0.68)">12.32</span></div>
<div class="c d k" style="left:720.72px;top:736.29px;width:40.77px;height:24.96px;line-height:24.96px"><span style="transform:scaleX(0.68)">14.24</span></div>
<div class="c r k" style="left:761.49px;top:736.29px;width:40.77px;height:24.96px;line-height:24.96px"><span style="transform:scaleX(0.68)">14.08</span></div>
<div class="c d k" style="left:802.26px;top:736.29px;width:40.77px;height:24.96px;line-height:24.96px"><span style="transform:scaleX(0.68)">16.02</span></div>
<div class="c r k" style="left:843.03px;top:736.29px;width:40.77px;height:24.96px;line-height:24.96px"><span style="transform:scaleX(0.68)">15.84</span></div>
<div class="c d k" style="left:883.80px;top:736.29px;width:40.77px;height:24.96px;line-height:24.96px"><span style="transform:scaleX(0.68)">17.80</span></div>
<div class="c r k" style="left:924.57px;top:736.29px;width:40.77px;height:24.96px;line-height:24.96px"><span style="transform:scaleX(0.68)">17.60</span></div>
<div class="c d k" style="left:965.34px;top:736.29px;width:40.77px;height:24.96px;line-height:24.96px"><span style="transform:scaleX(0.68)">19.58</span></div>
<div class="c r k" style="left:1006.11px;top:736.29px;width:40.77px;height:24.96px;line-height:24.96px"><span style="transform:scaleX(0.68)">19.36</span></div>
<div class="c d k" style="left:1046.88px;top:736.29px;width:40.77px;height:24.96px;line-height:24.96px"><span style="transform:scaleX(0.68)">21.60</span></div>
<div class="c r k" style="left:1087.65px;top:736.29px;width:40.77px;height:24.96px;line-height:24.96px"><span style="transform:scaleX(0.68)">21.12</span></div>
<div class="c di" style="left:13.10px;top:761.25px;width:54.40px;height:24.96px;line-height:24.96px"><span style="transform:scaleX(0.95)">1450</span></div>
<div class="c d" style="left:68.40px;top:761.25px;width:40.77px;height:24.96px;line-height:24.96px"><span style="transform:scaleX(0.91)">2.20</span></div>
<div class="c r" style="left:109.17px;top:761.25px;width:40.77px;height:24.96px;line-height:24.96px"><span style="transform:scaleX(0.91)">2.10</span></div>
<div class="c d" style="left:149.94px;top:761.25px;width:40.77px;height:24.96px;line-height:24.96px"><span style="transform:scaleX(0.91)">3.00</span></div>
<div class="c r" style="left:190.71px;top:761.25px;width:40.77px;height:24.96px;line-height:24.96px"><span style="transform:scaleX(0.91)">2.90</span></div>
<div class="c d" style="left:231.48px;top:761.25px;width:40.77px;height:24.96px;line-height:24.96px"><span style="transform:scaleX(0.91)">4.00</span></div>
<div class="c r" style="left:272.25px;top:761.25px;width:40.77px;height:24.96px;line-height:24.96px"><span style="transform:scaleX(0.91)">3.90</span></div>
<div class="c d" style="left:313.02px;top:761.25px;width:40.77px;height:24.96px;line-height:24.96px"><span style="transform:scaleX(0.91)">5.22</span></div>
<div class="c r" style="left:353.79px;top:761.25px;width:40.77px;height:24.96px;line-height:24.96px"><span style="transform:scaleX(0.91)">5.16</span></div>
<div class="c d" style="left:394.56px;top:761.25px;width:40.77px;height:24.96px;line-height:24.96px"><span style="transform:scaleX(0.91)">7.12</span></div>
<div class="c r" style="left:435.33px;top:761.25px;width:40.77px;height:24.96px;line-height:24.96px"><span style="transform:scaleX(0.91)">6.96</span></div>
<div class="c d" style="left:476.10px;top:761.25px;width:40.77px;height:24.96px;line-height:24.96px"><span style="transform:scaleX(0.91)">8.90</span></div>
<div class="c r" style="left:516.87px;top:761.25px;width:40.77px;height:24.96px;line-height:24.96px"><span style="transform:scaleX(0.91)">8.70</span></div>
<div class="c d k" style="left:557.64px;top:761.25px;width:40.77px;height:24.96px;line-height:24.96px"><span style="transform:scaleX(0.68)">10.68</span></div>
<div class="c r k" style="left:598.41px;top:761.25px;width:40.77px;height:24.96px;line-height:24.96px"><span style="transform:scaleX(0.68)">10.56</span></div>
<div class="c d k" style="left:639.18px;top:761.25px;width:40.77px;height:24.96px;line-height:24.96px"><span style="transform:scaleX(0.68)">12.46</span></div>
<div class="c r k" style="left:679.95px;top:761.25px;width:40.77px;height:24.96px;line-height:24.96px"><span style="transform:scaleX(0.68)">12.32</span></div>
<div class="c d k" style="left:720.72px;top:761.25px;width:40.77px;height:24.96px;line-height:24.96px"><span style="transform:scaleX(0.68)">14.24</span></div>
<div class="c r k" style="left:761.49px;top:761.25px;width:40.77px;height:24.96px;line-height:24.96px"><span style="transform:scaleX(0.68)">14.08</span></div>
<div class="c d k" style="left:802.26px;top:761.25px;width:40.77px;height:24.96px;line-height:24.96px"><span style="transform:scaleX(0.68)">16.02</span></div>
<div class="c r k" style="left:843.03px;top:761.25px;width:40.77px;height:24.96px;line-height:24.96px"><span style="transform:scaleX(0.68)">15.84</span></div>
<div class="c d k" style="left:883.80px;top:761.25px;width:40.77px;height:24.96px;line-height:24.96px"><span style="transform:scaleX(0.68)">17.80</span></div>
<div class="c r k" style="left:924.57px;top:761.25px;width:40.77px;height:24.96px;line-height:24.96px"><span style="transform:scaleX(0.68)">17.60</span></div>
<div class="c d k" style="left:965.34px;top:761.25px;width:40.77px;height:24.96px;line-height:24.96px"><span style="transform:scaleX(0.68)">19.58</span></div>
<div class="c r k" style="left:1006.11px;top:761.25px;width:40.77px;height:24.96px;line-height:24.96px"><span style="transform:scaleX(0.68)">19.36</span></div>
<div class="c d k" style="left:1046.88px;top:761.25px;width:40.77px;height:24.96px;line-height:24.96px"><span style="transform:scaleX(0.68)">21.60</span></div>
<div class="c r k" style="left:1087.65px;top:761.25px;width:40.77px;height:24.96px;line-height:24.96px"><span style="transform:scaleX(0.68)">21.12</span></div>
<div class="c di" style="left:13.10px;top:786.21px;width:54.40px;height:24.96px;line-height:24.96px"><span style="transform:scaleX(0.95)">1500</span></div>
<div class="c d" style="left:68.40px;top:786.21px;width:40.77px;height:24.96px;line-height:24.96px"><span style="transform:scaleX(0.91)">2.20</span></div>
<div class="c r" style="left:109.17px;top:786.21px;width:40.77px;height:24.96px;line-height:24.96px"><span style="transform:scaleX(0.91)">2.10</span></div>
<div class="c d" style="left:149.94px;top:786.21px;width:40.77px;height:24.96px;line-height:24.96px"><span style="transform:scaleX(0.91)">3.00</span></div>
<div class="c r" style="left:190.71px;top:786.21px;width:40.77px;height:24.96px;line-height:24.96px"><span style="transform:scaleX(0.91)">2.90</span></div>
<div class="c d" style="left:231.48px;top:786.21px;width:40.77px;height:24.96px;line-height:24.96px"><span style="transform:scaleX(0.91)">4.00</span></div>
<div class="c r" style="left:272.25px;top:786.21px;width:40.77px;height:24.96px;line-height:24.96px"><span style="transform:scaleX(0.91)">3.90</span></div>
<div class="c d" style="left:313.02px;top:786.21px;width:40.77px;height:24.96px;line-height:24.96px"><span style="transform:scaleX(0.91)">5.22</span></div>
<div class="c r" style="left:353.79px;top:786.21px;width:40.77px;height:24.96px;line-height:24.96px"><span style="transform:scaleX(0.91)">5.16</span></div>
<div class="c d" style="left:394.56px;top:786.21px;width:40.77px;height:24.96px;line-height:24.96px"><span style="transform:scaleX(0.91)">6.96</span></div>
<div class="c r" style="left:435.33px;top:786.21px;width:40.77px;height:24.96px;line-height:24.96px"><span style="transform:scaleX(0.91)">6.88</span></div>
<div class="c d" style="left:476.10px;top:786.21px;width:40.77px;height:24.96px;line-height:24.96px"><span style="transform:scaleX(0.91)">8.70</span></div>
<div class="c r" style="left:516.87px;top:786.21px;width:40.77px;height:24.96px;line-height:24.96px"><span style="transform:scaleX(0.91)">8.60</span></div>
<div class="c d k" style="left:557.64px;top:786.21px;width:40.77px;height:24.96px;line-height:24.96px"><span style="transform:scaleX(0.68)">10.56</span></div>
<div class="c r k" style="left:598.41px;top:786.21px;width:40.77px;height:24.96px;line-height:24.96px"><span style="transform:scaleX(0.68)">10.44</span></div>
<div class="c d k" style="left:639.18px;top:786.21px;width:40.77px;height:24.96px;line-height:24.96px"><span style="transform:scaleX(0.68)">12.32</span></div>
<div class="c r k" style="left:679.95px;top:786.21px;width:40.77px;height:24.96px;line-height:24.96px"><span style="transform:scaleX(0.68)">12.18</span></div>
<div class="c d k" style="left:720.72px;top:786.21px;width:40.77px;height:24.96px;line-height:24.96px"><span style="transform:scaleX(0.68)">14.08</span></div>
<div class="c r k" style="left:761.49px;top:786.21px;width:40.77px;height:24.96px;line-height:24.96px"><span style="transform:scaleX(0.68)">13.92</span></div>
<div class="c d k" style="left:802.26px;top:786.21px;width:40.77px;height:24.96px;line-height:24.96px"><span style="transform:scaleX(0.68)">15.84</span></div>
<div class="c r k" style="left:843.03px;top:786.21px;width:40.77px;height:24.96px;line-height:24.96px"><span style="transform:scaleX(0.68)">15.66</span></div>
<div class="c d k" style="left:883.80px;top:786.21px;width:40.77px;height:24.96px;line-height:24.96px"><span style="transform:scaleX(0.68)">17.60</span></div>
<div class="c r k" style="left:924.57px;top:786.21px;width:40.77px;height:24.96px;line-height:24.96px"><span style="transform:scaleX(0.68)">17.40</span></div>
<div class="c d k" style="left:965.34px;top:786.21px;width:40.77px;height:24.96px;line-height:24.96px"><span style="transform:scaleX(0.68)">19.36</span></div>
<div class="c r k" style="left:1006.11px;top:786.21px;width:40.77px;height:24.96px;line-height:24.96px"><span style="transform:scaleX(0.68)">19.14</span></div>
<div class="c d k" style="left:1046.88px;top:786.21px;width:40.77px;height:24.96px;line-height:24.96px"><span style="transform:scaleX(0.68)">21.36</span></div>
<div class="c r k" style="left:1087.65px;top:786.21px;width:40.77px;height:24.96px;line-height:24.96px"><span style="transform:scaleX(0.68)">21.12</span></div>
<div class="c di" style="left:13.10px;top:811.17px;width:54.40px;height:24.96px;line-height:24.96px"><span style="transform:scaleX(0.95)">1600</span></div>
<div class="c d" style="left:68.40px;top:811.17px;width:40.77px;height:24.96px;line-height:24.96px"><span style="transform:scaleX(0.91)">2.20</span></div>
<div class="c r" style="left:109.17px;top:811.17px;width:40.77px;height:24.96px;line-height:24.96px"><span style="transform:scaleX(0.91)">2.10</span></div>
<div class="c d" style="left:149.94px;top:811.17px;width:40.77px;height:24.96px;line-height:24.96px"><span style="transform:scaleX(0.91)">3.00</span></div>
<div class="c r" style="left:190.71px;top:811.17px;width:40.77px;height:24.96px;line-height:24.96px"><span style="transform:scaleX(0.91)">2.90</span></div>
<div class="c d" style="left:231.48px;top:811.17px;width:40.77px;height:24.96px;line-height:24.96px"><span style="transform:scaleX(0.91)">4.00</span></div>
<div class="c r" style="left:272.25px;top:811.17px;width:40.77px;height:24.96px;line-height:24.96px"><span style="transform:scaleX(0.91)">3.90</span></div>
<div class="c d" style="left:313.02px;top:811.17px;width:40.77px;height:24.96px;line-height:24.96px"><span style="transform:scaleX(0.91)">5.22</span></div>
<div class="c r" style="left:353.79px;top:811.17px;width:40.77px;height:24.96px;line-height:24.96px"><span style="transform:scaleX(0.91)">5.16</span></div>
<div class="c d" style="left:394.56px;top:811.17px;width:40.77px;height:24.96px;line-height:24.96px"><span style="transform:scaleX(0.91)">6.96</span></div>
<div class="c r" style="left:435.33px;top:811.17px;width:40.77px;height:24.96px;line-height:24.96px"><span style="transform:scaleX(0.91)">6.88</span></div>
<div class="c d" style="left:476.10px;top:811.17px;width:40.77px;height:24.96px;line-height:24.96px"><span style="transform:scaleX(0.91)">8.70</span></div>
<div class="c r" style="left:516.87px;top:811.17px;width:40.77px;height:24.96px;line-height:24.96px"><span style="transform:scaleX(0.91)">8.60</span></div>
<div class="c d k" style="left:557.64px;top:811.17px;width:40.77px;height:24.96px;line-height:24.96px"><span style="transform:scaleX(0.68)">10.56</span></div>
<div class="c r k" style="left:598.41px;top:811.17px;width:40.77px;height:24.96px;line-height:24.96px"><span style="transform:scaleX(0.68)">10.44</span></div>
<div class="c d k" style="left:639.18px;top:811.17px;width:40.77px;height:24.96px;line-height:24.96px"><span style="transform:scaleX(0.68)">12.32</span></div>
<div class="c r k" style="left:679.95px;top:811.17px;width:40.77px;height:24.96px;line-height:24.96px"><span style="transform:scaleX(0.68)">12.18</span></div>
<div class="c d k" style="left:720.72px;top:811.17px;width:40.77px;height:24.96px;line-height:24.96px"><span style="transform:scaleX(0.68)">14.08</span></div>
<div class="c r k" style="left:761.49px;top:811.17px;width:40.77px;height:24.96px;line-height:24.96px"><span style="transform:scaleX(0.68)">13.92</span></div>
<div class="c d k" style="left:802.26px;top:811.17px;width:40.77px;height:24.96px;line-height:24.96px"><span style="transform:scaleX(0.68)">15.84</span></div>
<div class="c r k" style="left:843.03px;top:811.17px;width:40.77px;height:24.96px;line-height:24.96px"><span style="transform:scaleX(0.68)">15.66</span></div>
<div class="c d k" style="left:883.80px;top:811.17px;width:40.77px;height:24.96px;line-height:24.96px"><span style="transform:scaleX(0.68)">17.60</span></div>
<div class="c r k" style="left:924.57px;top:811.17px;width:40.77px;height:24.96px;line-height:24.96px"><span style="transform:scaleX(0.68)">17.40</span></div>
<div class="c d k" style="left:965.34px;top:811.17px;width:40.77px;height:24.96px;line-height:24.96px"><span style="transform:scaleX(0.68)">19.36</span></div>
<div class="c r k" style="left:1006.11px;top:811.17px;width:40.77px;height:24.96px;line-height:24.96px"><span style="transform:scaleX(0.68)">19.14</span></div>
<div class="c d k" style="left:1046.88px;top:811.17px;width:40.77px;height:24.96px;line-height:24.96px"><span style="transform:scaleX(0.68)">21.36</span></div>
<div class="c r k" style="left:1087.65px;top:811.17px;width:40.77px;height:24.96px;line-height:24.96px"><span style="transform:scaleX(0.68)">21.12</span></div>
<div class="c di" style="left:13.10px;top:836.13px;width:54.40px;height:24.96px;line-height:24.96px"><span style="transform:scaleX(0.95)">1700</span></div>
<div class="c d" style="left:68.40px;top:836.13px;width:40.77px;height:24.96px;line-height:24.96px"><span style="transform:scaleX(0.91)">2.20</span></div>
<div class="c r" style="left:109.17px;top:836.13px;width:40.77px;height:24.96px;line-height:24.96px"><span style="transform:scaleX(0.91)">2.10</span></div>
<div class="c d" style="left:149.94px;top:836.13px;width:40.77px;height:24.96px;line-height:24.96px"><span style="transform:scaleX(0.91)">3.00</span></div>
<div class="c r" style="left:190.71px;top:836.13px;width:40.77px;height:24.96px;line-height:24.96px"><span style="transform:scaleX(0.91)">2.90</span></div>
<div class="c d" style="left:231.48px;top:836.13px;width:40.77px;height:24.96px;line-height:24.96px"><span style="transform:scaleX(0.91)">4.00</span></div>
<div class="c r" style="left:272.25px;top:836.13px;width:40.77px;height:24.96px;line-height:24.96px"><span style="transform:scaleX(0.91)">3.90</span></div>
<div class="c d" style="left:313.02px;top:836.13px;width:40.77px;height:24.96px;line-height:24.96px"><span style="transform:scaleX(0.91)">5.22</span></div>
<div class="c r" style="left:353.79px;top:836.13px;width:40.77px;height:24.96px;line-height:24.96px"><span style="transform:scaleX(0.91)">5.16</span></div>
<div class="c d" style="left:394.56px;top:836.13px;width:40.77px;height:24.96px;line-height:24.96px"><span style="transform:scaleX(0.91)">6.96</span></div>
<div class="c r" style="left:435.33px;top:836.13px;width:40.77px;height:24.96px;line-height:24.96px"><span style="transform:scaleX(0.91)">6.88</span></div>
<div class="c d" style="left:476.10px;top:836.13px;width:40.77px;height:24.96px;line-height:24.96px"><span style="transform:scaleX(0.91)">8.70</span></div>
<div class="c r" style="left:516.87px;top:836.13px;width:40.77px;height:24.96px;line-height:24.96px"><span style="transform:scaleX(0.91)">8.60</span></div>
<div class="c d k" style="left:557.64px;top:836.13px;width:40.77px;height:24.96px;line-height:24.96px"><span style="transform:scaleX(0.68)">10.56</span></div>
<div class="c r k" style="left:598.41px;top:836.13px;width:40.77px;height:24.96px;line-height:24.96px"><span style="transform:scaleX(0.68)">10.44</span></div>
<div class="c d k" style="left:639.18px;top:836.13px;width:40.77px;height:24.96px;line-height:24.96px"><span style="transform:scaleX(0.68)">12.32</span></div>
<div class="c r k" style="left:679.95px;top:836.13px;width:40.77px;height:24.96px;line-height:24.96px"><span style="transform:scaleX(0.68)">12.18</span></div>
<div class="c d k" style="left:720.72px;top:836.13px;width:40.77px;height:24.96px;line-height:24.96px"><span style="transform:scaleX(0.68)">14.08</span></div>
<div class="c r k" style="left:761.49px;top:836.13px;width:40.77px;height:24.96px;line-height:24.96px"><span style="transform:scaleX(0.68)">13.92</span></div>
<div class="c d k" style="left:802.26px;top:836.13px;width:40.77px;height:24.96px;line-height:24.96px"><span style="transform:scaleX(0.68)">15.84</span></div>
<div class="c r k" style="left:843.03px;top:836.13px;width:40.77px;height:24.96px;line-height:24.96px"><span style="transform:scaleX(0.68)">15.66</span></div>
<div class="c d k" style="left:883.80px;top:836.13px;width:40.77px;height:24.96px;line-height:24.96px"><span style="transform:scaleX(0.68)">17.60</span></div>
<div class="c r k" style="left:924.57px;top:836.13px;width:40.77px;height:24.96px;line-height:24.96px"><span style="transform:scaleX(0.68)">17.40</span></div>
<div class="c d k" style="left:965.34px;top:836.13px;width:40.77px;height:24.96px;line-height:24.96px"><span style="transform:scaleX(0.68)">19.36</span></div>
<div class="c r k" style="left:1006.11px;top:836.13px;width:40.77px;height:24.96px;line-height:24.96px"><span style="transform:scaleX(0.68)">19.14</span></div>
<div class="c d k" style="left:1046.88px;top:836.13px;width:40.77px;height:24.96px;line-height:24.96px"><span style="transform:scaleX(0.68)">21.36</span></div>
<div class="c r k" style="left:1087.65px;top:836.13px;width:40.77px;height:24.96px;line-height:24.96px"><span style="transform:scaleX(0.68)">21.12</span></div>
<div class="c di" style="left:13.10px;top:861.10px;width:54.40px;height:24.96px;line-height:24.96px"><span style="transform:scaleX(0.95)">1800</span></div>
<div class="c d" style="left:68.40px;top:861.10px;width:40.77px;height:24.96px;line-height:24.96px"><span style="transform:scaleX(0.91)">2.20</span></div>
<div class="c r" style="left:109.17px;top:861.10px;width:40.77px;height:24.96px;line-height:24.96px"><span style="transform:scaleX(0.91)">2.10</span></div>
<div class="c d" style="left:149.94px;top:861.10px;width:40.77px;height:24.96px;line-height:24.96px"><span style="transform:scaleX(0.91)">3.00</span></div>
<div class="c r" style="left:190.71px;top:861.10px;width:40.77px;height:24.96px;line-height:24.96px"><span style="transform:scaleX(0.91)">2.90</span></div>
<div class="c d" style="left:231.48px;top:861.10px;width:40.77px;height:24.96px;line-height:24.96px"><span style="transform:scaleX(0.91)">4.00</span></div>
<div class="c r" style="left:272.25px;top:861.10px;width:40.77px;height:24.96px;line-height:24.96px"><span style="transform:scaleX(0.91)">3.90</span></div>
<div class="c d" style="left:313.02px;top:861.10px;width:40.77px;height:24.96px;line-height:24.96px"><span style="transform:scaleX(0.91)">5.22</span></div>
<div class="c r" style="left:353.79px;top:861.10px;width:40.77px;height:24.96px;line-height:24.96px"><span style="transform:scaleX(0.91)">5.16</span></div>
<div class="c d" style="left:394.56px;top:861.10px;width:40.77px;height:24.96px;line-height:24.96px"><span style="transform:scaleX(0.91)">6.96</span></div>
<div class="c r" style="left:435.33px;top:861.10px;width:40.77px;height:24.96px;line-height:24.96px"><span style="transform:scaleX(0.91)">6.88</span></div>
<div class="c d" style="left:476.10px;top:861.10px;width:40.77px;height:24.96px;line-height:24.96px"><span style="transform:scaleX(0.91)">8.70</span></div>
<div class="c r" style="left:516.87px;top:861.10px;width:40.77px;height:24.96px;line-height:24.96px"><span style="transform:scaleX(0.91)">8.60</span></div>
<div class="c d k" style="left:557.64px;top:861.10px;width:40.77px;height:24.96px;line-height:24.96px"><span style="transform:scaleX(0.68)">10.56</span></div>
<div class="c r k" style="left:598.41px;top:861.10px;width:40.77px;height:24.96px;line-height:24.96px"><span style="transform:scaleX(0.68)">10.44</span></div>
<div class="c d k" style="left:639.18px;top:861.10px;width:40.77px;height:24.96px;line-height:24.96px"><span style="transform:scaleX(0.68)">12.32</span></div>
<div class="c r k" style="left:679.95px;top:861.10px;width:40.77px;height:24.96px;line-height:24.96px"><span style="transform:scaleX(0.68)">12.18</span></div>
<div class="c d k" style="left:720.72px;top:861.10px;width:40.77px;height:24.96px;line-height:24.96px"><span style="transform:scaleX(0.68)">14.08</span></div>
<div class="c r k" style="left:761.49px;top:861.10px;width:40.77px;height:24.96px;line-height:24.96px"><span style="transform:scaleX(0.68)">13.92</span></div>
<div class="c d k" style="left:802.26px;top:861.10px;width:40.77px;height:24.96px;line-height:24.96px"><span style="transform:scaleX(0.68)">15.84</span></div>
<div class="c r k" style="left:843.03px;top:861.10px;width:40.77px;height:24.96px;line-height:24.96px"><span style="transform:scaleX(0.68)">15.66</span></div>
<div class="c d k" style="left:883.80px;top:861.10px;width:40.77px;height:24.96px;line-height:24.96px"><span style="transform:scaleX(0.68)">17.60</span></div>
<div class="c r k" style="left:924.57px;top:861.10px;width:40.77px;height:24.96px;line-height:24.96px"><span style="transform:scaleX(0.68)">17.40</span></div>
<div class="c d k" style="left:965.34px;top:861.10px;width:40.77px;height:24.96px;line-height:24.96px"><span style="transform:scaleX(0.68)">19.36</span></div>
<div class="c r k" style="left:1006.11px;top:861.10px;width:40.77px;height:24.96px;line-height:24.96px"><span style="transform:scaleX(0.68)">19.14</span></div>
<div class="c d k" style="left:1046.88px;top:861.10px;width:40.77px;height:24.96px;line-height:24.96px"><span style="transform:scaleX(0.68)">21.36</span></div>
<div class="c r k" style="left:1087.65px;top:861.10px;width:40.77px;height:24.96px;line-height:24.96px"><span style="transform:scaleX(0.68)">21.12</span></div>
<div class="c di" style="left:13.10px;top:886.06px;width:54.40px;height:24.96px;line-height:24.96px"><span style="transform:scaleX(0.95)">1900</span></div>
<div class="c d" style="left:68.40px;top:886.06px;width:40.77px;height:24.96px;line-height:24.96px"><span style="transform:scaleX(0.91)">2.10</span></div>
<div class="c r" style="left:109.17px;top:886.06px;width:40.77px;height:24.96px;line-height:24.96px"><span style="transform:scaleX(0.91)">2.00</span></div>
<div class="c d" style="left:149.94px;top:886.06px;width:40.77px;height:24.96px;line-height:24.96px"><span style="transform:scaleX(0.91)">2.90</span></div>
<div class="c r" style="left:190.71px;top:886.06px;width:40.77px;height:24.96px;line-height:24.96px"><span style="transform:scaleX(0.91)">2.80</span></div>
<div class="c d" style="left:231.48px;top:886.06px;width:40.77px;height:24.96px;line-height:24.96px"><span style="transform:scaleX(0.91)">3.90</span></div>
<div class="c r" style="left:272.25px;top:886.06px;width:40.77px;height:24.96px;line-height:24.96px"><span style="transform:scaleX(0.91)">3.80</span></div>
<div class="c d" style="left:313.02px;top:886.06px;width:40.77px;height:24.96px;line-height:24.96px"><span style="transform:scaleX(0.91)">5.22</span></div>
<div class="c r" style="left:353.79px;top:886.06px;width:40.77px;height:24.96px;line-height:24.96px"><span style="transform:scaleX(0.91)">5.16</span></div>
<div class="c d" style="left:394.56px;top:886.06px;width:40.77px;height:24.96px;line-height:24.96px"><span style="transform:scaleX(0.91)">6.96</span></div>
<div class="c r" style="left:435.33px;top:886.06px;width:40.77px;height:24.96px;line-height:24.96px"><span style="transform:scaleX(0.91)">6.88</span></div>
<div class="c d" style="left:476.10px;top:886.06px;width:40.77px;height:24.96px;line-height:24.96px"><span style="transform:scaleX(0.91)">8.70</span></div>
<div class="c r" style="left:516.87px;top:886.06px;width:40.77px;height:24.96px;line-height:24.96px"><span style="transform:scaleX(0.91)">8.60</span></div>
<div class="c d k" style="left:557.64px;top:886.06px;width:40.77px;height:24.96px;line-height:24.96px"><span style="transform:scaleX(0.68)">10.56</span></div>
<div class="c r k" style="left:598.41px;top:886.06px;width:40.77px;height:24.96px;line-height:24.96px"><span style="transform:scaleX(0.68)">10.44</span></div>
<div class="c d k" style="left:639.18px;top:886.06px;width:40.77px;height:24.96px;line-height:24.96px"><span style="transform:scaleX(0.68)">12.32</span></div>
<div class="c r k" style="left:679.95px;top:886.06px;width:40.77px;height:24.96px;line-height:24.96px"><span style="transform:scaleX(0.68)">12.18</span></div>
<div class="c d k" style="left:720.72px;top:886.06px;width:40.77px;height:24.96px;line-height:24.96px"><span style="transform:scaleX(0.68)">14.08</span></div>
<div class="c r k" style="left:761.49px;top:886.06px;width:40.77px;height:24.96px;line-height:24.96px"><span style="transform:scaleX(0.68)">13.92</span></div>
<div class="c d k" style="left:802.26px;top:886.06px;width:40.77px;height:24.96px;line-height:24.96px"><span style="transform:scaleX(0.68)">15.84</span></div>
<div class="c r k" style="left:843.03px;top:886.06px;width:40.77px;height:24.96px;line-height:24.96px"><span style="transform:scaleX(0.68)">15.66</span></div>
<div class="c d k" style="left:883.80px;top:886.06px;width:40.77px;height:24.96px;line-height:24.96px"><span style="transform:scaleX(0.68)">17.60</span></div>
<div class="c r k" style="left:924.57px;top:886.06px;width:40.77px;height:24.96px;line-height:24.96px"><span style="transform:scaleX(0.68)">17.40</span></div>
<div class="c d k" style="left:965.34px;top:886.06px;width:40.77px;height:24.96px;line-height:24.96px"><span style="transform:scaleX(0.68)">19.36</span></div>
<div class="c r k" style="left:1006.11px;top:886.06px;width:40.77px;height:24.96px;line-height:24.96px"><span style="transform:scaleX(0.68)">19.14</span></div>
<div class="c d k" style="left:1046.88px;top:886.06px;width:40.77px;height:24.96px;line-height:24.96px"><span style="transform:scaleX(0.68)">21.36</span></div>
<div class="c r k" style="left:1087.65px;top:886.06px;width:40.77px;height:24.96px;line-height:24.96px"><span style="transform:scaleX(0.68)">21.12</span></div>
<div class="c di" style="left:13.10px;top:911.02px;width:54.40px;height:24.96px;line-height:24.96px"><span style="transform:scaleX(0.95)">2000</span></div>
<div class="c d" style="left:68.40px;top:911.02px;width:40.77px;height:24.96px;line-height:24.96px"><span style="transform:scaleX(0.91)">2.10</span></div>
<div class="c r" style="left:109.17px;top:911.02px;width:40.77px;height:24.96px;line-height:24.96px"><span style="transform:scaleX(0.91)">2.00</span></div>
<div class="c d" style="left:149.94px;top:911.02px;width:40.77px;height:24.96px;line-height:24.96px"><span style="transform:scaleX(0.91)">2.90</span></div>
<div class="c r" style="left:190.71px;top:911.02px;width:40.77px;height:24.96px;line-height:24.96px"><span style="transform:scaleX(0.91)">2.80</span></div>
<div class="c d" style="left:231.48px;top:911.02px;width:40.77px;height:24.96px;line-height:24.96px"><span style="transform:scaleX(0.91)">3.90</span></div>
<div class="c r" style="left:272.25px;top:911.02px;width:40.77px;height:24.96px;line-height:24.96px"><span style="transform:scaleX(0.91)">3.80</span></div>
<div class="c d" style="left:313.02px;top:911.02px;width:40.77px;height:24.96px;line-height:24.96px"><span style="transform:scaleX(0.91)">5.22</span></div>
<div class="c r" style="left:353.79px;top:911.02px;width:40.77px;height:24.96px;line-height:24.96px"><span style="transform:scaleX(0.91)">5.10</span></div>
<div class="c d" style="left:394.56px;top:911.02px;width:40.77px;height:24.96px;line-height:24.96px"><span style="transform:scaleX(0.91)">6.96</span></div>
<div class="c r" style="left:435.33px;top:911.02px;width:40.77px;height:24.96px;line-height:24.96px"><span style="transform:scaleX(0.91)">6.80</span></div>
<div class="c d" style="left:476.10px;top:911.02px;width:40.77px;height:24.96px;line-height:24.96px"><span style="transform:scaleX(0.91)">8.70</span></div>
<div class="c r" style="left:516.87px;top:911.02px;width:40.77px;height:24.96px;line-height:24.96px"><span style="transform:scaleX(0.91)">8.50</span></div>
<div class="c d k" style="left:557.64px;top:911.02px;width:40.77px;height:24.96px;line-height:24.96px"><span style="transform:scaleX(0.68)">10.56</span></div>
<div class="c r k" style="left:598.41px;top:911.02px;width:40.77px;height:24.96px;line-height:24.96px"><span style="transform:scaleX(0.68)">10.44</span></div>
<div class="c d k" style="left:639.18px;top:911.02px;width:40.77px;height:24.96px;line-height:24.96px"><span style="transform:scaleX(0.68)">12.32</span></div>
<div class="c r k" style="left:679.95px;top:911.02px;width:40.77px;height:24.96px;line-height:24.96px"><span style="transform:scaleX(0.68)">12.18</span></div>
<div class="c d k" style="left:720.72px;top:911.02px;width:40.77px;height:24.96px;line-height:24.96px"><span style="transform:scaleX(0.68)">14.08</span></div>
<div class="c r k" style="left:761.49px;top:911.02px;width:40.77px;height:24.96px;line-height:24.96px"><span style="transform:scaleX(0.68)">13.92</span></div>
<div class="c d k" style="left:802.26px;top:911.02px;width:40.77px;height:24.96px;line-height:24.96px"><span style="transform:scaleX(0.68)">15.84</span></div>
<div class="c r k" style="left:843.03px;top:911.02px;width:40.77px;height:24.96px;line-height:24.96px"><span style="transform:scaleX(0.68)">15.66</span></div>
<div class="c d k" style="left:883.80px;top:911.02px;width:40.77px;height:24.96px;line-height:24.96px"><span style="transform:scaleX(0.68)">17.60</span></div>
<div class="c r k" style="left:924.57px;top:911.02px;width:40.77px;height:24.96px;line-height:24.96px"><span style="transform:scaleX(0.68)">17.40</span></div>
<div class="c d k" style="left:965.34px;top:911.02px;width:40.77px;height:24.96px;line-height:24.96px"><span style="transform:scaleX(0.68)">19.36</span></div>
<div class="c r k" style="left:1006.11px;top:911.02px;width:40.77px;height:24.96px;line-height:24.96px"><span style="transform:scaleX(0.68)">19.14</span></div>
<div class="c d k" style="left:1046.88px;top:911.02px;width:40.77px;height:24.96px;line-height:24.96px"><span style="transform:scaleX(0.68)">21.12</span></div>
<div class="c r k" style="left:1087.65px;top:911.02px;width:40.77px;height:24.96px;line-height:24.96px"><span style="transform:scaleX(0.68)">20.88</span></div>
<div class="c di" style="left:13.10px;top:935.98px;width:54.40px;height:24.96px;line-height:24.96px"><span style="transform:scaleX(0.95)">2100</span></div>
<div class="c d" style="left:68.40px;top:935.98px;width:40.77px;height:24.96px;line-height:24.96px"><span style="transform:scaleX(0.91)">2.10</span></div>
<div class="c r" style="left:109.17px;top:935.98px;width:40.77px;height:24.96px;line-height:24.96px"><span style="transform:scaleX(0.91)">2.00</span></div>
<div class="c d" style="left:149.94px;top:935.98px;width:40.77px;height:24.96px;line-height:24.96px"><span style="transform:scaleX(0.91)">2.90</span></div>
<div class="c r" style="left:190.71px;top:935.98px;width:40.77px;height:24.96px;line-height:24.96px"><span style="transform:scaleX(0.91)">2.80</span></div>
<div class="c d" style="left:231.48px;top:935.98px;width:40.77px;height:24.96px;line-height:24.96px"><span style="transform:scaleX(0.91)">3.90</span></div>
<div class="c r" style="left:272.25px;top:935.98px;width:40.77px;height:24.96px;line-height:24.96px"><span style="transform:scaleX(0.91)">3.80</span></div>
<div class="c d" style="left:313.02px;top:935.98px;width:40.77px;height:24.96px;line-height:24.96px"><span style="transform:scaleX(0.91)">5.22</span></div>
<div class="c r" style="left:353.79px;top:935.98px;width:40.77px;height:24.96px;line-height:24.96px"><span style="transform:scaleX(0.91)">5.10</span></div>
<div class="c d" style="left:394.56px;top:935.98px;width:40.77px;height:24.96px;line-height:24.96px"><span style="transform:scaleX(0.91)">6.96</span></div>
<div class="c r" style="left:435.33px;top:935.98px;width:40.77px;height:24.96px;line-height:24.96px"><span style="transform:scaleX(0.91)">6.80</span></div>
<div class="c d" style="left:476.10px;top:935.98px;width:40.77px;height:24.96px;line-height:24.96px"><span style="transform:scaleX(0.91)">8.70</span></div>
<div class="c r" style="left:516.87px;top:935.98px;width:40.77px;height:24.96px;line-height:24.96px"><span style="transform:scaleX(0.91)">8.50</span></div>
<div class="c d k" style="left:557.64px;top:935.98px;width:40.77px;height:24.96px;line-height:24.96px"><span style="transform:scaleX(0.68)">10.56</span></div>
<div class="c r k" style="left:598.41px;top:935.98px;width:40.77px;height:24.96px;line-height:24.96px"><span style="transform:scaleX(0.68)">10.44</span></div>
<div class="c d k" style="left:639.18px;top:935.98px;width:40.77px;height:24.96px;line-height:24.96px"><span style="transform:scaleX(0.68)">12.32</span></div>
<div class="c r k" style="left:679.95px;top:935.98px;width:40.77px;height:24.96px;line-height:24.96px"><span style="transform:scaleX(0.68)">12.18</span></div>
<div class="c d k" style="left:720.72px;top:935.98px;width:40.77px;height:24.96px;line-height:24.96px"><span style="transform:scaleX(0.68)">14.08</span></div>
<div class="c r k" style="left:761.49px;top:935.98px;width:40.77px;height:24.96px;line-height:24.96px"><span style="transform:scaleX(0.68)">13.92</span></div>
<div class="c d k" style="left:802.26px;top:935.98px;width:40.77px;height:24.96px;line-height:24.96px"><span style="transform:scaleX(0.68)">15.84</span></div>
<div class="c r k" style="left:843.03px;top:935.98px;width:40.77px;height:24.96px;line-height:24.96px"><span style="transform:scaleX(0.68)">15.66</span></div>
<div class="c d k" style="left:883.80px;top:935.98px;width:40.77px;height:24.96px;line-height:24.96px"><span style="transform:scaleX(0.68)">17.60</span></div>
<div class="c r k" style="left:924.57px;top:935.98px;width:40.77px;height:24.96px;line-height:24.96px"><span style="transform:scaleX(0.68)">17.40</span></div>
<div class="c d k" style="left:965.34px;top:935.98px;width:40.77px;height:24.96px;line-height:24.96px"><span style="transform:scaleX(0.68)">19.36</span></div>
<div class="c r k" style="left:1006.11px;top:935.98px;width:40.77px;height:24.96px;line-height:24.96px"><span style="transform:scaleX(0.68)">19.14</span></div>
<div class="c d k" style="left:1046.88px;top:935.98px;width:40.77px;height:24.96px;line-height:24.96px"><span style="transform:scaleX(0.68)">21.12</span></div>
<div class="c r k" style="left:1087.65px;top:935.98px;width:40.77px;height:24.96px;line-height:24.96px"><span style="transform:scaleX(0.68)">20.88</span></div>
<div class="c di" style="left:13.10px;top:960.94px;width:54.40px;height:24.96px;line-height:24.96px"><span style="transform:scaleX(0.95)">2200</span></div>
<div class="c d" style="left:68.40px;top:960.94px;width:40.77px;height:24.96px;line-height:24.96px"><span style="transform:scaleX(0.91)">2.10</span></div>
<div class="c r" style="left:109.17px;top:960.94px;width:40.77px;height:24.96px;line-height:24.96px"><span style="transform:scaleX(0.91)">2.00</span></div>
<div class="c d" style="left:149.94px;top:960.94px;width:40.77px;height:24.96px;line-height:24.96px"><span style="transform:scaleX(0.91)">2.90</span></div>
<div class="c r" style="left:190.71px;top:960.94px;width:40.77px;height:24.96px;line-height:24.96px"><span style="transform:scaleX(0.91)">2.80</span></div>
<div class="c d" style="left:231.48px;top:960.94px;width:40.77px;height:24.96px;line-height:24.96px"><span style="transform:scaleX(0.91)">3.90</span></div>
<div class="c r" style="left:272.25px;top:960.94px;width:40.77px;height:24.96px;line-height:24.96px"><span style="transform:scaleX(0.91)">3.80</span></div>
<div class="c d" style="left:313.02px;top:960.94px;width:40.77px;height:24.96px;line-height:24.96px"><span style="transform:scaleX(0.91)">5.22</span></div>
<div class="c r" style="left:353.79px;top:960.94px;width:40.77px;height:24.96px;line-height:24.96px"><span style="transform:scaleX(0.91)">5.10</span></div>
<div class="c d" style="left:394.56px;top:960.94px;width:40.77px;height:24.96px;line-height:24.96px"><span style="transform:scaleX(0.91)">6.96</span></div>
<div class="c r" style="left:435.33px;top:960.94px;width:40.77px;height:24.96px;line-height:24.96px"><span style="transform:scaleX(0.91)">6.80</span></div>
<div class="c d" style="left:476.10px;top:960.94px;width:40.77px;height:24.96px;line-height:24.96px"><span style="transform:scaleX(0.91)">8.70</span></div>
<div class="c r" style="left:516.87px;top:960.94px;width:40.77px;height:24.96px;line-height:24.96px"><span style="transform:scaleX(0.91)">8.50</span></div>
<div class="c d k" style="left:557.64px;top:960.94px;width:40.77px;height:24.96px;line-height:24.96px"><span style="transform:scaleX(0.68)">10.56</span></div>
<div class="c r k" style="left:598.41px;top:960.94px;width:40.77px;height:24.96px;line-height:24.96px"><span style="transform:scaleX(0.68)">10.44</span></div>
<div class="c d k" style="left:639.18px;top:960.94px;width:40.77px;height:24.96px;line-height:24.96px"><span style="transform:scaleX(0.68)">12.32</span></div>
<div class="c r k" style="left:679.95px;top:960.94px;width:40.77px;height:24.96px;line-height:24.96px"><span style="transform:scaleX(0.68)">12.18</span></div>
<div class="c d k" style="left:720.72px;top:960.94px;width:40.77px;height:24.96px;line-height:24.96px"><span style="transform:scaleX(0.68)">14.08</span></div>
<div class="c r k" style="left:761.49px;top:960.94px;width:40.77px;height:24.96px;line-height:24.96px"><span style="transform:scaleX(0.68)">13.92</span></div>
<div class="c d k" style="left:802.26px;top:960.94px;width:40.77px;height:24.96px;line-height:24.96px"><span style="transform:scaleX(0.68)">15.84</span></div>
<div class="c r k" style="left:843.03px;top:960.94px;width:40.77px;height:24.96px;line-height:24.96px"><span style="transform:scaleX(0.68)">15.66</span></div>
<div class="c d k" style="left:883.80px;top:960.94px;width:40.77px;height:24.96px;line-height:24.96px"><span style="transform:scaleX(0.68)">17.60</span></div>
<div class="c r k" style="left:924.57px;top:960.94px;width:40.77px;height:24.96px;line-height:24.96px"><span style="transform:scaleX(0.68)">17.40</span></div>
<div class="c d k" style="left:965.34px;top:960.94px;width:40.77px;height:24.96px;line-height:24.96px"><span style="transform:scaleX(0.68)">19.36</span></div>
<div class="c r k" style="left:1006.11px;top:960.94px;width:40.77px;height:24.96px;line-height:24.96px"><span style="transform:scaleX(0.68)">19.14</span></div>
<div class="c d k" style="left:1046.88px;top:960.94px;width:40.77px;height:24.96px;line-height:24.96px"><span style="transform:scaleX(0.68)">21.12</span></div>
<div class="c r k" style="left:1087.65px;top:960.94px;width:40.77px;height:24.96px;line-height:24.96px"><span style="transform:scaleX(0.68)">20.88</span></div>
<div class="c di" style="left:13.10px;top:985.90px;width:54.40px;height:24.96px;line-height:24.96px"><span style="transform:scaleX(0.95)">2300</span></div>
<div class="c d" style="left:68.40px;top:985.90px;width:40.77px;height:24.96px;line-height:24.96px"><span style="transform:scaleX(0.91)">2.10</span></div>
<div class="c r" style="left:109.17px;top:985.90px;width:40.77px;height:24.96px;line-height:24.96px"><span style="transform:scaleX(0.91)">2.00</span></div>
<div class="c d" style="left:149.94px;top:985.90px;width:40.77px;height:24.96px;line-height:24.96px"><span style="transform:scaleX(0.91)">2.90</span></div>
<div class="c r" style="left:190.71px;top:985.90px;width:40.77px;height:24.96px;line-height:24.96px"><span style="transform:scaleX(0.91)">2.80</span></div>
<div class="c d" style="left:231.48px;top:985.90px;width:40.77px;height:24.96px;line-height:24.96px"><span style="transform:scaleX(0.91)">3.90</span></div>
<div class="c r" style="left:272.25px;top:985.90px;width:40.77px;height:24.96px;line-height:24.96px"><span style="transform:scaleX(0.91)">3.80</span></div>
<div class="c d" style="left:313.02px;top:985.90px;width:40.77px;height:24.96px;line-height:24.96px"><span style="transform:scaleX(0.91)">5.22</span></div>
<div class="c r" style="left:353.79px;top:985.90px;width:40.77px;height:24.96px;line-height:24.96px"><span style="transform:scaleX(0.91)">5.10</span></div>
<div class="c d" style="left:394.56px;top:985.90px;width:40.77px;height:24.96px;line-height:24.96px"><span style="transform:scaleX(0.91)">6.96</span></div>
<div class="c r" style="left:435.33px;top:985.90px;width:40.77px;height:24.96px;line-height:24.96px"><span style="transform:scaleX(0.91)">6.80</span></div>
<div class="c d" style="left:476.10px;top:985.90px;width:40.77px;height:24.96px;line-height:24.96px"><span style="transform:scaleX(0.91)">8.70</span></div>
<div class="c r" style="left:516.87px;top:985.90px;width:40.77px;height:24.96px;line-height:24.96px"><span style="transform:scaleX(0.91)">8.50</span></div>
<div class="c d k" style="left:557.64px;top:985.90px;width:40.77px;height:24.96px;line-height:24.96px"><span style="transform:scaleX(0.68)">10.56</span></div>
<div class="c r k" style="left:598.41px;top:985.90px;width:40.77px;height:24.96px;line-height:24.96px"><span style="transform:scaleX(0.68)">10.44</span></div>
<div class="c d k" style="left:639.18px;top:985.90px;width:40.77px;height:24.96px;line-height:24.96px"><span style="transform:scaleX(0.68)">12.32</span></div>
<div class="c r k" style="left:679.95px;top:985.90px;width:40.77px;height:24.96px;line-height:24.96px"><span style="transform:scaleX(0.68)">12.18</span></div>
<div class="c d k" style="left:720.72px;top:985.90px;width:40.77px;height:24.96px;line-height:24.96px"><span style="transform:scaleX(0.68)">14.08</span></div>
<div class="c r k" style="left:761.49px;top:985.90px;width:40.77px;height:24.96px;line-height:24.96px"><span style="transform:scaleX(0.68)">13.92</span></div>
<div class="c d k" style="left:802.26px;top:985.90px;width:40.77px;height:24.96px;line-height:24.96px"><span style="transform:scaleX(0.68)">15.84</span></div>
<div class="c r k" style="left:843.03px;top:985.90px;width:40.77px;height:24.96px;line-height:24.96px"><span style="transform:scaleX(0.68)">15.66</span></div>
<div class="c d k" style="left:883.80px;top:985.90px;width:40.77px;height:24.96px;line-height:24.96px"><span style="transform:scaleX(0.68)">17.60</span></div>
<div class="c r k" style="left:924.57px;top:985.90px;width:40.77px;height:24.96px;line-height:24.96px"><span style="transform:scaleX(0.68)">17.40</span></div>
<div class="c d k" style="left:965.34px;top:985.90px;width:40.77px;height:24.96px;line-height:24.96px"><span style="transform:scaleX(0.68)">19.36</span></div>
<div class="c r k" style="left:1006.11px;top:985.90px;width:40.77px;height:24.96px;line-height:24.96px"><span style="transform:scaleX(0.68)">19.14</span></div>
<div class="c d k" style="left:1046.88px;top:985.90px;width:40.77px;height:24.96px;line-height:24.96px"><span style="transform:scaleX(0.68)">21.12</span></div>
<div class="c r k" style="left:1087.65px;top:985.90px;width:40.77px;height:24.96px;line-height:24.96px"><span style="transform:scaleX(0.68)">20.88</span></div>
<div class="c di" style="left:13.10px;top:1010.87px;width:54.40px;height:24.96px;line-height:24.96px"><span style="transform:scaleX(0.95)">2400</span></div>
<div class="c d" style="left:68.40px;top:1010.87px;width:40.77px;height:24.96px;line-height:24.96px"><span style="transform:scaleX(0.91)">2.10</span></div>
<div class="c r" style="left:109.17px;top:1010.87px;width:40.77px;height:24.96px;line-height:24.96px"><span style="transform:scaleX(0.91)">2.00</span></div>
<div class="c d" style="left:149.94px;top:1010.87px;width:40.77px;height:24.96px;line-height:24.96px"><span style="transform:scaleX(0.91)">2.90</span></div>
<div class="c r" style="left:190.71px;top:1010.87px;width:40.77px;height:24.96px;line-height:24.96px"><span style="transform:scaleX(0.91)">2.80</span></div>
<div class="c d" style="left:231.48px;top:1010.87px;width:40.77px;height:24.96px;line-height:24.96px"><span style="transform:scaleX(0.91)">3.90</span></div>
<div class="c r" style="left:272.25px;top:1010.87px;width:40.77px;height:24.96px;line-height:24.96px"><span style="transform:scaleX(0.91)">3.80</span></div>
<div class="c d" style="left:313.02px;top:1010.87px;width:40.77px;height:24.96px;line-height:24.96px"><span style="transform:scaleX(0.91)">5.22</span></div>
<div class="c r" style="left:353.79px;top:1010.87px;width:40.77px;height:24.96px;line-height:24.96px"><span style="transform:scaleX(0.91)">5.10</span></div>
<div class="c d" style="left:394.56px;top:1010.87px;width:40.77px;height:24.96px;line-height:24.96px"><span style="transform:scaleX(0.91)">6.96</span></div>
<div class="c r" style="left:435.33px;top:1010.87px;width:40.77px;height:24.96px;line-height:24.96px"><span style="transform:scaleX(0.91)">6.80</span></div>
<div class="c d" style="left:476.10px;top:1010.87px;width:40.77px;height:24.96px;line-height:24.96px"><span style="transform:scaleX(0.91)">8.70</span></div>
<div class="c r" style="left:516.87px;top:1010.87px;width:40.77px;height:24.96px;line-height:24.96px"><span style="transform:scaleX(0.91)">8.50</span></div>
<div class="c d k" style="left:557.64px;top:1010.87px;width:40.77px;height:24.96px;line-height:24.96px"><span style="transform:scaleX(0.68)">10.56</span></div>
<div class="c r k" style="left:598.41px;top:1010.87px;width:40.77px;height:24.96px;line-height:24.96px"><span style="transform:scaleX(0.68)">10.44</span></div>
<div class="c d k" style="left:639.18px;top:1010.87px;width:40.77px;height:24.96px;line-height:24.96px"><span style="transform:scaleX(0.68)">12.32</span></div>
<div class="c r k" style="left:679.95px;top:1010.87px;width:40.77px;height:24.96px;line-height:24.96px"><span style="transform:scaleX(0.68)">12.18</span></div>
<div class="c d k" style="left:720.72px;top:1010.87px;width:40.77px;height:24.96px;line-height:24.96px"><span style="transform:scaleX(0.68)">14.08</span></div>
<div class="c r k" style="left:761.49px;top:1010.87px;width:40.77px;height:24.96px;line-height:24.96px"><span style="transform:scaleX(0.68)">13.92</span></div>
<div class="c d k" style="left:802.26px;top:1010.87px;width:40.77px;height:24.96px;line-height:24.96px"><span style="transform:scaleX(0.68)">15.84</span></div>
<div class="c r k" style="left:843.03px;top:1010.87px;width:40.77px;height:24.96px;line-height:24.96px"><span style="transform:scaleX(0.68)">15.66</span></div>
<div class="c d k" style="left:883.80px;top:1010.87px;width:40.77px;height:24.96px;line-height:24.96px"><span style="transform:scaleX(0.68)">17.60</span></div>
<div class="c r k" style="left:924.57px;top:1010.87px;width:40.77px;height:24.96px;line-height:24.96px"><span style="transform:scaleX(0.68)">17.40</span></div>
<div class="c d k" style="left:965.34px;top:1010.87px;width:40.77px;height:24.96px;line-height:24.96px"><span style="transform:scaleX(0.68)">19.36</span></div>
<div class="c r k" style="left:1006.11px;top:1010.87px;width:40.77px;height:24.96px;line-height:24.96px"><span style="transform:scaleX(0.68)">19.14</span></div>
<div class="c d k" style="left:1046.88px;top:1010.87px;width:40.77px;height:24.96px;line-height:24.96px"><span style="transform:scaleX(0.68)">21.12</span></div>
<div class="c r k" style="left:1087.65px;top:1010.87px;width:40.77px;height:24.96px;line-height:24.96px"><span style="transform:scaleX(0.68)">20.88</span></div>
<div class="c di" style="left:13.10px;top:1035.83px;width:54.40px;height:24.96px;line-height:24.96px"><span style="transform:scaleX(0.95)">2500</span></div>
<div class="c d" style="left:68.40px;top:1035.83px;width:40.77px;height:24.96px;line-height:24.96px"><span style="transform:scaleX(0.91)">2.00</span></div>
<div class="c r" style="left:109.17px;top:1035.83px;width:40.77px;height:24.96px;line-height:24.96px"><span style="transform:scaleX(0.91)">1.90</span></div>
<div class="c d" style="left:149.94px;top:1035.83px;width:40.77px;height:24.96px;line-height:24.96px"><span style="transform:scaleX(0.91)">2.80</span></div>
<div class="c r" style="left:190.71px;top:1035.83px;width:40.77px;height:24.96px;line-height:24.96px"><span style="transform:scaleX(0.91)">2.70</span></div>
<div class="c d" style="left:231.48px;top:1035.83px;width:40.77px;height:24.96px;line-height:24.96px"><span style="transform:scaleX(0.91)">3.80</span></div>
<div class="c r" style="left:272.25px;top:1035.83px;width:40.77px;height:24.96px;line-height:24.96px"><span style="transform:scaleX(0.91)">3.70</span></div>
<div class="c d" style="left:313.02px;top:1035.83px;width:40.77px;height:24.96px;line-height:24.96px"><span style="transform:scaleX(0.91)">5.22</span></div>
<div class="c r" style="left:353.79px;top:1035.83px;width:40.77px;height:24.96px;line-height:24.96px"><span style="transform:scaleX(0.91)">5.10</span></div>
<div class="c d" style="left:394.56px;top:1035.83px;width:40.77px;height:24.96px;line-height:24.96px"><span style="transform:scaleX(0.91)">6.96</span></div>
<div class="c r" style="left:435.33px;top:1035.83px;width:40.77px;height:24.96px;line-height:24.96px"><span style="transform:scaleX(0.91)">6.80</span></div>
<div class="c d" style="left:476.10px;top:1035.83px;width:40.77px;height:24.96px;line-height:24.96px"><span style="transform:scaleX(0.91)">8.70</span></div>
<div class="c r" style="left:516.87px;top:1035.83px;width:40.77px;height:24.96px;line-height:24.96px"><span style="transform:scaleX(0.91)">8.50</span></div>
<div class="c d k" style="left:557.64px;top:1035.83px;width:40.77px;height:24.96px;line-height:24.96px"><span style="transform:scaleX(0.68)">10.56</span></div>
<div class="c r k" style="left:598.41px;top:1035.83px;width:40.77px;height:24.96px;line-height:24.96px"><span style="transform:scaleX(0.68)">10.44</span></div>
<div class="c d k" style="left:639.18px;top:1035.83px;width:40.77px;height:24.96px;line-height:24.96px"><span style="transform:scaleX(0.68)">12.32</span></div>
<div class="c r k" style="left:679.95px;top:1035.83px;width:40.77px;height:24.96px;line-height:24.96px"><span style="transform:scaleX(0.68)">12.18</span></div>
<div class="c d k" style="left:720.72px;top:1035.83px;width:40.77px;height:24.96px;line-height:24.96px"><span style="transform:scaleX(0.68)">14.08</span></div>
<div class="c r k" style="left:761.49px;top:1035.83px;width:40.77px;height:24.96px;line-height:24.96px"><span style="transform:scaleX(0.68)">13.92</span></div>
<div class="c d k" style="left:802.26px;top:1035.83px;width:40.77px;height:24.96px;line-height:24.96px"><span style="transform:scaleX(0.68)">15.84</span></div>
<div class="c r k" style="left:843.03px;top:1035.83px;width:40.77px;height:24.96px;line-height:24.96px"><span style="transform:scaleX(0.68)">15.66</span></div>
<div class="c d k" style="left:883.80px;top:1035.83px;width:40.77px;height:24.96px;line-height:24.96px"><span style="transform:scaleX(0.68)">17.60</span></div>
<div class="c r k" style="left:924.57px;top:1035.83px;width:40.77px;height:24.96px;line-height:24.96px"><span style="transform:scaleX(0.68)">17.40</span></div>
<div class="c d k" style="left:965.34px;top:1035.83px;width:40.77px;height:24.96px;line-height:24.96px"><span style="transform:scaleX(0.68)">19.36</span></div>
<div class="c r k" style="left:1006.11px;top:1035.83px;width:40.77px;height:24.96px;line-height:24.96px"><span style="transform:scaleX(0.68)">19.14</span></div>
<div class="c d k" style="left:1046.88px;top:1035.83px;width:40.77px;height:24.96px;line-height:24.96px"><span style="transform:scaleX(0.68)">21.12</span></div>
<div class="c r k" style="left:1087.65px;top:1035.83px;width:40.77px;height:24.96px;line-height:24.96px"><span style="transform:scaleX(0.68)">20.88</span></div>
<div class="c di" style="left:13.10px;top:1060.79px;width:54.40px;height:24.96px;line-height:24.96px"><span style="transform:scaleX(0.95)">2600</span></div>
<div class="c d" style="left:68.40px;top:1060.79px;width:40.77px;height:24.96px;line-height:24.96px"><span style="transform:scaleX(0.91)">2.00</span></div>
<div class="c r" style="left:109.17px;top:1060.79px;width:40.77px;height:24.96px;line-height:24.96px"><span style="transform:scaleX(0.91)">1.90</span></div>
<div class="c d" style="left:149.94px;top:1060.79px;width:40.77px;height:24.96px;line-height:24.96px"><span style="transform:scaleX(0.91)">2.80</span></div>
<div class="c r" style="left:190.71px;top:1060.79px;width:40.77px;height:24.96px;line-height:24.96px"><span style="transform:scaleX(0.91)">2.70</span></div>
<div class="c d" style="left:231.48px;top:1060.79px;width:40.77px;height:24.96px;line-height:24.96px"><span style="transform:scaleX(0.91)">3.80</span></div>
<div class="c r" style="left:272.25px;top:1060.79px;width:40.77px;height:24.96px;line-height:24.96px"><span style="transform:scaleX(0.91)">3.70</span></div>
<div class="c d" style="left:313.02px;top:1060.79px;width:40.77px;height:24.96px;line-height:24.96px"><span style="transform:scaleX(0.91)">5.22</span></div>
<div class="c r" style="left:353.79px;top:1060.79px;width:40.77px;height:24.96px;line-height:24.96px"><span style="transform:scaleX(0.91)">5.10</span></div>
<div class="c d" style="left:394.56px;top:1060.79px;width:40.77px;height:24.96px;line-height:24.96px"><span style="transform:scaleX(0.91)">6.96</span></div>
<div class="c r" style="left:435.33px;top:1060.79px;width:40.77px;height:24.96px;line-height:24.96px"><span style="transform:scaleX(0.91)">6.80</span></div>
<div class="c d" style="left:476.10px;top:1060.79px;width:40.77px;height:24.96px;line-height:24.96px"><span style="transform:scaleX(0.91)">8.70</span></div>
<div class="c r" style="left:516.87px;top:1060.79px;width:40.77px;height:24.96px;line-height:24.96px"><span style="transform:scaleX(0.91)">8.50</span></div>
<div class="c d k" style="left:557.64px;top:1060.79px;width:40.77px;height:24.96px;line-height:24.96px"><span style="transform:scaleX(0.68)">10.56</span></div>
<div class="c r k" style="left:598.41px;top:1060.79px;width:40.77px;height:24.96px;line-height:24.96px"><span style="transform:scaleX(0.68)">10.44</span></div>
<div class="c d k" style="left:639.18px;top:1060.79px;width:40.77px;height:24.96px;line-height:24.96px"><span style="transform:scaleX(0.68)">12.32</span></div>
<div class="c r k" style="left:679.95px;top:1060.79px;width:40.77px;height:24.96px;line-height:24.96px"><span style="transform:scaleX(0.68)">12.18</span></div>
<div class="c d k" style="left:720.72px;top:1060.79px;width:40.77px;height:24.96px;line-height:24.96px"><span style="transform:scaleX(0.68)">14.08</span></div>
<div class="c r k" style="left:761.49px;top:1060.79px;width:40.77px;height:24.96px;line-height:24.96px"><span style="transform:scaleX(0.68)">13.92</span></div>
<div class="c d k" style="left:802.26px;top:1060.79px;width:40.77px;height:24.96px;line-height:24.96px"><span style="transform:scaleX(0.68)">15.84</span></div>
<div class="c r k" style="left:843.03px;top:1060.79px;width:40.77px;height:24.96px;line-height:24.96px"><span style="transform:scaleX(0.68)">15.66</span></div>
<div class="c d k" style="left:883.80px;top:1060.79px;width:40.77px;height:24.96px;line-height:24.96px"><span style="transform:scaleX(0.68)">17.60</span></div>
<div class="c r k" style="left:924.57px;top:1060.79px;width:40.77px;height:24.96px;line-height:24.96px"><span style="transform:scaleX(0.68)">17.40</span></div>
<div class="c d k" style="left:965.34px;top:1060.79px;width:40.77px;height:24.96px;line-height:24.96px"><span style="transform:scaleX(0.68)">19.36</span></div>
<div class="c r k" style="left:1006.11px;top:1060.79px;width:40.77px;height:24.96px;line-height:24.96px"><span style="transform:scaleX(0.68)">19.14</span></div>
<div class="c d k" style="left:1046.88px;top:1060.79px;width:40.77px;height:24.96px;line-height:24.96px"><span style="transform:scaleX(0.68)">21.12</span></div>
<div class="c r k" style="left:1087.65px;top:1060.79px;width:40.77px;height:24.96px;line-height:24.96px"><span style="transform:scaleX(0.68)">20.88</span></div>
<div class="c di" style="left:13.10px;top:1085.75px;width:54.40px;height:24.96px;line-height:24.96px"><span style="transform:scaleX(0.95)">2700</span></div>
<div class="c d" style="left:68.40px;top:1085.75px;width:40.77px;height:24.96px;line-height:24.96px"><span style="transform:scaleX(0.91)">2.00</span></div>
<div class="c r" style="left:109.17px;top:1085.75px;width:40.77px;height:24.96px;line-height:24.96px"><span style="transform:scaleX(0.91)">1.90</span></div>
<div class="c d" style="left:149.94px;top:1085.75px;width:40.77px;height:24.96px;line-height:24.96px"><span style="transform:scaleX(0.91)">2.80</span></div>
<div class="c r" style="left:190.71px;top:1085.75px;width:40.77px;height:24.96px;line-height:24.96px"><span style="transform:scaleX(0.91)">2.70</span></div>
<div class="c d" style="left:231.48px;top:1085.75px;width:40.77px;height:24.96px;line-height:24.96px"><span style="transform:scaleX(0.91)">3.80</span></div>
<div class="c r" style="left:272.25px;top:1085.75px;width:40.77px;height:24.96px;line-height:24.96px"><span style="transform:scaleX(0.91)">3.70</span></div>
<div class="c d" style="left:313.02px;top:1085.75px;width:40.77px;height:24.96px;line-height:24.96px"><span style="transform:scaleX(0.91)">5.22</span></div>
<div class="c r" style="left:353.79px;top:1085.75px;width:40.77px;height:24.96px;line-height:24.96px"><span style="transform:scaleX(0.91)">5.10</span></div>
<div class="c d" style="left:394.56px;top:1085.75px;width:40.77px;height:24.96px;line-height:24.96px"><span style="transform:scaleX(0.91)">6.96</span></div>
<div class="c r" style="left:435.33px;top:1085.75px;width:40.77px;height:24.96px;line-height:24.96px"><span style="transform:scaleX(0.91)">6.80</span></div>
<div class="c d" style="left:476.10px;top:1085.75px;width:40.77px;height:24.96px;line-height:24.96px"><span style="transform:scaleX(0.91)">8.70</span></div>
<div class="c r" style="left:516.87px;top:1085.75px;width:40.77px;height:24.96px;line-height:24.96px"><span style="transform:scaleX(0.91)">8.50</span></div>
<div class="c d k" style="left:557.64px;top:1085.75px;width:40.77px;height:24.96px;line-height:24.96px"><span style="transform:scaleX(0.68)">10.56</span></div>
<div class="c r k" style="left:598.41px;top:1085.75px;width:40.77px;height:24.96px;line-height:24.96px"><span style="transform:scaleX(0.68)">10.44</span></div>
<div class="c d k" style="left:639.18px;top:1085.75px;width:40.77px;height:24.96px;line-height:24.96px"><span style="transform:scaleX(0.68)">12.32</span></div>
<div class="c r k" style="left:679.95px;top:1085.75px;width:40.77px;height:24.96px;line-height:24.96px"><span style="transform:scaleX(0.68)">12.18</span></div>
<div class="c d k" style="left:720.72px;top:1085.75px;width:40.77px;height:24.96px;line-height:24.96px"><span style="transform:scaleX(0.68)">14.08</span></div>
<div class="c r k" style="left:761.49px;top:1085.75px;width:40.77px;height:24.96px;line-height:24.96px"><span style="transform:scaleX(0.68)">13.92</span></div>
<div class="c d k" style="left:802.26px;top:1085.75px;width:40.77px;height:24.96px;line-height:24.96px"><span style="transform:scaleX(0.68)">15.84</span></div>
<div class="c r k" style="left:843.03px;top:1085.75px;width:40.77px;height:24.96px;line-height:24.96px"><span style="transform:scaleX(0.68)">15.66</span></div>
<div class="c d k" style="left:883.80px;top:1085.75px;width:40.77px;height:24.96px;line-height:24.96px"><span style="transform:scaleX(0.68)">17.60</span></div>
<div class="c r k" style="left:924.57px;top:1085.75px;width:40.77px;height:24.96px;line-height:24.96px"><span style="transform:scaleX(0.68)">17.40</span></div>
<div class="c d k" style="left:965.34px;top:1085.75px;width:40.77px;height:24.96px;line-height:24.96px"><span style="transform:scaleX(0.68)">19.36</span></div>
<div class="c r k" style="left:1006.11px;top:1085.75px;width:40.77px;height:24.96px;line-height:24.96px"><span style="transform:scaleX(0.68)">19.14</span></div>
<div class="c d k" style="left:1046.88px;top:1085.75px;width:40.77px;height:24.96px;line-height:24.96px"><span style="transform:scaleX(0.68)">21.12</span></div>
<div class="c r k" style="left:1087.65px;top:1085.75px;width:40.77px;height:24.96px;line-height:24.96px"><span style="transform:scaleX(0.68)">20.88</span></div>
<div class="c di" style="left:13.10px;top:1110.71px;width:54.40px;height:24.96px;line-height:24.96px"><span style="transform:scaleX(0.95)">2800</span></div>
<div class="c d" style="left:68.40px;top:1110.71px;width:40.77px;height:24.96px;line-height:24.96px"><span style="transform:scaleX(0.91)">2.00</span></div>
<div class="c r" style="left:109.17px;top:1110.71px;width:40.77px;height:24.96px;line-height:24.96px"><span style="transform:scaleX(0.91)">1.90</span></div>
<div class="c d" style="left:149.94px;top:1110.71px;width:40.77px;height:24.96px;line-height:24.96px"><span style="transform:scaleX(0.91)">2.80</span></div>
<div class="c r" style="left:190.71px;top:1110.71px;width:40.77px;height:24.96px;line-height:24.96px"><span style="transform:scaleX(0.91)">2.70</span></div>
<div class="c d" style="left:231.48px;top:1110.71px;width:40.77px;height:24.96px;line-height:24.96px"><span style="transform:scaleX(0.91)">3.80</span></div>
<div class="c r" style="left:272.25px;top:1110.71px;width:40.77px;height:24.96px;line-height:24.96px"><span style="transform:scaleX(0.91)">3.70</span></div>
<div class="c d" style="left:313.02px;top:1110.71px;width:40.77px;height:24.96px;line-height:24.96px"><span style="transform:scaleX(0.91)">5.22</span></div>
<div class="c r" style="left:353.79px;top:1110.71px;width:40.77px;height:24.96px;line-height:24.96px"><span style="transform:scaleX(0.91)">5.10</span></div>
<div class="c d" style="left:394.56px;top:1110.71px;width:40.77px;height:24.96px;line-height:24.96px"><span style="transform:scaleX(0.91)">6.96</span></div>
<div class="c r" style="left:435.33px;top:1110.71px;width:40.77px;height:24.96px;line-height:24.96px"><span style="transform:scaleX(0.91)">6.80</span></div>
<div class="c d" style="left:476.10px;top:1110.71px;width:40.77px;height:24.96px;line-height:24.96px"><span style="transform:scaleX(0.91)">8.70</span></div>
<div class="c r" style="left:516.87px;top:1110.71px;width:40.77px;height:24.96px;line-height:24.96px"><span style="transform:scaleX(0.91)">8.50</span></div>
<div class="c d k" style="left:557.64px;top:1110.71px;width:40.77px;height:24.96px;line-height:24.96px"><span style="transform:scaleX(0.68)">10.56</span></div>
<div class="c r k" style="left:598.41px;top:1110.71px;width:40.77px;height:24.96px;line-height:24.96px"><span style="transform:scaleX(0.68)">10.44</span></div>
<div class="c d k" style="left:639.18px;top:1110.71px;width:40.77px;height:24.96px;line-height:24.96px"><span style="transform:scaleX(0.68)">12.32</span></div>
<div class="c r k" style="left:679.95px;top:1110.71px;width:40.77px;height:24.96px;line-height:24.96px"><span style="transform:scaleX(0.68)">12.18</span></div>
<div class="c d k" style="left:720.72px;top:1110.71px;width:40.77px;height:24.96px;line-height:24.96px"><span style="transform:scaleX(0.68)">14.08</span></div>
<div class="c r k" style="left:761.49px;top:1110.71px;width:40.77px;height:24.96px;line-height:24.96px"><span style="transform:scaleX(0.68)">13.92</span></div>
<div class="c d k" style="left:802.26px;top:1110.71px;width:40.77px;height:24.96px;line-height:24.96px"><span style="transform:scaleX(0.68)">15.84</span></div>
<div class="c r k" style="left:843.03px;top:1110.71px;width:40.77px;height:24.96px;line-height:24.96px"><span style="transform:scaleX(0.68)">15.66</span></div>
<div class="c d k" style="left:883.80px;top:1110.71px;width:40.77px;height:24.96px;line-height:24.96px"><span style="transform:scaleX(0.68)">17.60</span></div>
<div class="c r k" style="left:924.57px;top:1110.71px;width:40.77px;height:24.96px;line-height:24.96px"><span style="transform:scaleX(0.68)">17.40</span></div>
<div class="c d k" style="left:965.34px;top:1110.71px;width:40.77px;height:24.96px;line-height:24.96px"><span style="transform:scaleX(0.68)">19.36</span></div>
<div class="c r k" style="left:1006.11px;top:1110.71px;width:40.77px;height:24.96px;line-height:24.96px"><span style="transform:scaleX(0.68)">19.14</span></div>
<div class="c d k" style="left:1046.88px;top:1110.71px;width:40.77px;height:24.96px;line-height:24.96px"><span style="transform:scaleX(0.68)">21.12</span></div>
<div class="c r k" style="left:1087.65px;top:1110.71px;width:40.77px;height:24.96px;line-height:24.96px"><span style="transform:scaleX(0.68)">20.88</span></div>
<div class="c di" style="left:13.10px;top:1135.68px;width:54.40px;height:24.96px;line-height:24.96px"><span style="transform:scaleX(0.95)">2900</span></div>
<div class="c d" style="left:68.40px;top:1135.68px;width:40.77px;height:24.96px;line-height:24.96px"><span style="transform:scaleX(0.91)">2.00</span></div>
<div class="c r" style="left:109.17px;top:1135.68px;width:40.77px;height:24.96px;line-height:24.96px"><span style="transform:scaleX(0.91)">1.90</span></div>
<div class="c d" style="left:149.94px;top:1135.68px;width:40.77px;height:24.96px;line-height:24.96px"><span style="transform:scaleX(0.91)">2.80</span></div>
<div class="c r" style="left:190.71px;top:1135.68px;width:40.77px;height:24.96px;line-height:24.96px"><span style="transform:scaleX(0.91)">2.70</span></div>
<div class="c d" style="left:231.48px;top:1135.68px;width:40.77px;height:24.96px;line-height:24.96px"><span style="transform:scaleX(0.91)">3.80</span></div>
<div class="c r" style="left:272.25px;top:1135.68px;width:40.77px;height:24.96px;line-height:24.96px"><span style="transform:scaleX(0.91)">3.70</span></div>
<div class="c d" style="left:313.02px;top:1135.68px;width:40.77px;height:24.96px;line-height:24.96px"><span style="transform:scaleX(0.91)">5.22</span></div>
<div class="c r" style="left:353.79px;top:1135.68px;width:40.77px;height:24.96px;line-height:24.96px"><span style="transform:scaleX(0.91)">5.10</span></div>
<div class="c d" style="left:394.56px;top:1135.68px;width:40.77px;height:24.96px;line-height:24.96px"><span style="transform:scaleX(0.91)">6.96</span></div>
<div class="c r" style="left:435.33px;top:1135.68px;width:40.77px;height:24.96px;line-height:24.96px"><span style="transform:scaleX(0.91)">6.80</span></div>
<div class="c d" style="left:476.10px;top:1135.68px;width:40.77px;height:24.96px;line-height:24.96px"><span style="transform:scaleX(0.91)">8.70</span></div>
<div class="c r" style="left:516.87px;top:1135.68px;width:40.77px;height:24.96px;line-height:24.96px"><span style="transform:scaleX(0.91)">8.50</span></div>
<div class="c d k" style="left:557.64px;top:1135.68px;width:40.77px;height:24.96px;line-height:24.96px"><span style="transform:scaleX(0.68)">10.56</span></div>
<div class="c r k" style="left:598.41px;top:1135.68px;width:40.77px;height:24.96px;line-height:24.96px"><span style="transform:scaleX(0.68)">10.44</span></div>
<div class="c d k" style="left:639.18px;top:1135.68px;width:40.77px;height:24.96px;line-height:24.96px"><span style="transform:scaleX(0.68)">12.32</span></div>
<div class="c r k" style="left:679.95px;top:1135.68px;width:40.77px;height:24.96px;line-height:24.96px"><span style="transform:scaleX(0.68)">12.18</span></div>
<div class="c d k" style="left:720.72px;top:1135.68px;width:40.77px;height:24.96px;line-height:24.96px"><span style="transform:scaleX(0.68)">14.08</span></div>
<div class="c r k" style="left:761.49px;top:1135.68px;width:40.77px;height:24.96px;line-height:24.96px"><span style="transform:scaleX(0.68)">13.92</span></div>
<div class="c d k" style="left:802.26px;top:1135.68px;width:40.77px;height:24.96px;line-height:24.96px"><span style="transform:scaleX(0.68)">15.84</span></div>
<div class="c r k" style="left:843.03px;top:1135.68px;width:40.77px;height:24.96px;line-height:24.96px"><span style="transform:scaleX(0.68)">15.66</span></div>
<div class="c d k" style="left:883.80px;top:1135.68px;width:40.77px;height:24.96px;line-height:24.96px"><span style="transform:scaleX(0.68)">17.60</span></div>
<div class="c r k" style="left:924.57px;top:1135.68px;width:40.77px;height:24.96px;line-height:24.96px"><span style="transform:scaleX(0.68)">17.40</span></div>
<div class="c d k" style="left:965.34px;top:1135.68px;width:40.77px;height:24.96px;line-height:24.96px"><span style="transform:scaleX(0.68)">19.36</span></div>
<div class="c r k" style="left:1006.11px;top:1135.68px;width:40.77px;height:24.96px;line-height:24.96px"><span style="transform:scaleX(0.68)">19.14</span></div>
<div class="c d k" style="left:1046.88px;top:1135.68px;width:40.77px;height:24.96px;line-height:24.96px"><span style="transform:scaleX(0.68)">21.12</span></div>
<div class="c r k" style="left:1087.65px;top:1135.68px;width:40.77px;height:24.96px;line-height:24.96px"><span style="transform:scaleX(0.68)">20.88</span></div>
<div class="c di" style="left:13.10px;top:1160.64px;width:54.40px;height:24.96px;line-height:24.96px"><span style="transform:scaleX(0.95)">3000</span></div>
<div class="c d" style="left:68.40px;top:1160.64px;width:40.77px;height:24.96px;line-height:24.96px"><span style="transform:scaleX(0.91)">2.00</span></div>
<div class="c r" style="left:109.17px;top:1160.64px;width:40.77px;height:24.96px;line-height:24.96px"><span style="transform:scaleX(0.91)">1.90</span></div>
<div class="c d" style="left:149.94px;top:1160.64px;width:40.77px;height:24.96px;line-height:24.96px"><span style="transform:scaleX(0.91)">2.80</span></div>
<div class="c r" style="left:190.71px;top:1160.64px;width:40.77px;height:24.96px;line-height:24.96px"><span style="transform:scaleX(0.91)">2.70</span></div>
<div class="c d" style="left:231.48px;top:1160.64px;width:40.77px;height:24.96px;line-height:24.96px"><span style="transform:scaleX(0.91)">3.80</span></div>
<div class="c r" style="left:272.25px;top:1160.64px;width:40.77px;height:24.96px;line-height:24.96px"><span style="transform:scaleX(0.91)">3.70</span></div>
<div class="c d" style="left:313.02px;top:1160.64px;width:40.77px;height:24.96px;line-height:24.96px"><span style="transform:scaleX(0.91)">5.00</span></div>
<div class="c r" style="left:353.79px;top:1160.64px;width:40.77px;height:24.96px;line-height:24.96px"><span style="transform:scaleX(0.91)">4.90</span></div>
<div class="c d" style="left:394.56px;top:1160.64px;width:40.77px;height:24.96px;line-height:24.96px"><span style="transform:scaleX(0.91)">6.70</span></div>
<div class="c r" style="left:435.33px;top:1160.64px;width:40.77px;height:24.96px;line-height:24.96px"><span style="transform:scaleX(0.91)">6.60</span></div>
<div class="c d" style="left:476.10px;top:1160.64px;width:40.77px;height:24.96px;line-height:24.96px"><span style="transform:scaleX(0.91)">8.70</span></div>
<div class="c r" style="left:516.87px;top:1160.64px;width:40.77px;height:24.96px;line-height:24.96px"><span style="transform:scaleX(0.91)">8.50</span></div>
<div class="c d k" style="left:557.64px;top:1160.64px;width:40.77px;height:24.96px;line-height:24.96px"><span style="transform:scaleX(0.68)">10.44</span></div>
<div class="c r k" style="left:598.41px;top:1160.64px;width:40.77px;height:24.96px;line-height:24.96px"><span style="transform:scaleX(0.68)">10.20</span></div>
<div class="c d k" style="left:639.18px;top:1160.64px;width:40.77px;height:24.96px;line-height:24.96px"><span style="transform:scaleX(0.68)">12.18</span></div>
<div class="c r k" style="left:679.95px;top:1160.64px;width:40.77px;height:24.96px;line-height:24.96px"><span style="transform:scaleX(0.68)">11.90</span></div>
<div class="c d k" style="left:720.72px;top:1160.64px;width:40.77px;height:24.96px;line-height:24.96px"><span style="transform:scaleX(0.68)">13.92</span></div>
<div class="c r k" style="left:761.49px;top:1160.64px;width:40.77px;height:24.96px;line-height:24.96px"><span style="transform:scaleX(0.68)">13.60</span></div>
<div class="c d k" style="left:802.26px;top:1160.64px;width:40.77px;height:24.96px;line-height:24.96px"><span style="transform:scaleX(0.68)">15.66</span></div>
<div class="c r k" style="left:843.03px;top:1160.64px;width:40.77px;height:24.96px;line-height:24.96px"><span style="transform:scaleX(0.68)">15.30</span></div>
<div class="c d k" style="left:883.80px;top:1160.64px;width:40.77px;height:24.96px;line-height:24.96px"><span style="transform:scaleX(0.68)">17.40</span></div>
<div class="c r k" style="left:924.57px;top:1160.64px;width:40.77px;height:24.96px;line-height:24.96px"><span style="transform:scaleX(0.68)">17.00</span></div>
<div class="c d k" style="left:965.34px;top:1160.64px;width:40.77px;height:24.96px;line-height:24.96px"><span style="transform:scaleX(0.68)">19.14</span></div>
<div class="c r k" style="left:1006.11px;top:1160.64px;width:40.77px;height:24.96px;line-height:24.96px"><span style="transform:scaleX(0.68)">18.70</span></div>
<div class="c d k" style="left:1046.88px;top:1160.64px;width:40.77px;height:24.96px;line-height:24.96px"><span style="transform:scaleX(0.68)">21.12</span></div>
<div class="c r k" style="left:1087.65px;top:1160.64px;width:40.77px;height:24.96px;line-height:24.96px"><span style="transform:scaleX(0.68)">20.88</span></div>
<div class="hv" style="left:67px;top:68.0px;height:68.6px"></div>
<div class="hv" style="left:108px;top:101.8px;height:34.8px"></div>
<div class="hv" style="left:149px;top:68.0px;height:68.6px"></div>
<div class="hv" style="left:190px;top:101.8px;height:34.8px"></div>
<div class="hv" style="left:230px;top:68.0px;height:68.6px"></div>
<div class="hv" style="left:271px;top:101.8px;height:34.8px"></div>
<div class="hv" style="left:312px;top:68.0px;height:68.6px"></div>
<div class="hv" style="left:353px;top:101.8px;height:34.8px"></div>
<div class="hv" style="left:394px;top:68.0px;height:68.6px"></div>
<div class="hv" style="left:434px;top:101.8px;height:34.8px"></div>
<div class="hv" style="left:475px;top:68.0px;height:68.6px"></div>
<div class="hv" style="left:516px;top:101.8px;height:34.8px"></div>
<div class="hv" style="left:557px;top:68.0px;height:68.6px"></div>
<div class="hv" style="left:597px;top:101.8px;height:34.8px"></div>
<div class="hv" style="left:638px;top:68.0px;height:68.6px"></div>
<div class="hv" style="left:679px;top:101.8px;height:34.8px"></div>
<div class="hv" style="left:720px;top:68.0px;height:68.6px"></div>
<div class="hv" style="left:760px;top:101.8px;height:34.8px"></div>
<div class="hv" style="left:801px;top:68.0px;height:68.6px"></div>
<div class="hv" style="left:842px;top:101.8px;height:34.8px"></div>
<div class="hv" style="left:883px;top:68.0px;height:68.6px"></div>
<div class="hv" style="left:924px;top:101.8px;height:34.8px"></div>
<div class="hv" style="left:964px;top:68.0px;height:68.6px"></div>
<div class="hv" style="left:1005px;top:101.8px;height:34.8px"></div>
<div class="hv" style="left:1046px;top:68.0px;height:68.6px"></div>
<div class="hv" style="left:1087px;top:101.8px;height:34.8px"></div>
<div class="hh" style="left:68.40px;top:101px;width:1060.02px"></div>
<div class="lv" style="left:67px;top:136.6px;height:1048.40px"></div>
<div class="lv" style="left:108px;top:136.6px;height:1048.40px"></div>
<div class="lv" style="left:149px;top:136.6px;height:1048.40px"></div>
<div class="lv" style="left:190px;top:136.6px;height:1048.40px"></div>
<div class="lv" style="left:230px;top:136.6px;height:1048.40px"></div>
<div class="lv" style="left:271px;top:136.6px;height:1048.40px"></div>
<div class="lv" style="left:312px;top:136.6px;height:1048.40px"></div>
<div class="lv" style="left:353px;top:136.6px;height:1048.40px"></div>
<div class="lv" style="left:394px;top:136.6px;height:1048.40px"></div>
<div class="lv" style="left:434px;top:136.6px;height:1048.40px"></div>
<div class="lv" style="left:475px;top:136.6px;height:1048.40px"></div>
<div class="lv" style="left:516px;top:136.6px;height:1048.40px"></div>
<div class="lv" style="left:557px;top:136.6px;height:1048.40px"></div>
<div class="lv" style="left:597px;top:136.6px;height:1048.40px"></div>
<div class="lv" style="left:638px;top:136.6px;height:1048.40px"></div>
<div class="lv" style="left:679px;top:136.6px;height:1048.40px"></div>
<div class="lv" style="left:720px;top:136.6px;height:1048.40px"></div>
<div class="lv" style="left:760px;top:136.6px;height:1048.40px"></div>
<div class="lv" style="left:801px;top:136.6px;height:1048.40px"></div>
<div class="lv" style="left:842px;top:136.6px;height:1048.40px"></div>
<div class="lv" style="left:883px;top:136.6px;height:1048.40px"></div>
<div class="lv" style="left:924px;top:136.6px;height:1048.40px"></div>
<div class="lv" style="left:964px;top:136.6px;height:1048.40px"></div>
<div class="lv" style="left:1005px;top:136.6px;height:1048.40px"></div>
<div class="lv" style="left:1046px;top:136.6px;height:1048.40px"></div>
<div class="lv" style="left:1087px;top:136.6px;height:1048.40px"></div>
<div class="lh" style="left:14.0px;top:161px;width:1114.42px"></div>
<div class="lh" style="left:14.0px;top:186px;width:1114.42px"></div>
<div class="lh" style="left:14.0px;top:210px;width:1114.42px"></div>
<div class="lh" style="left:14.0px;top:235px;width:1114.42px"></div>
<div class="lh" style="left:14.0px;top:260px;width:1114.42px"></div>
<div class="lh" style="left:14.0px;top:285px;width:1114.42px"></div>
<div class="lh" style="left:14.0px;top:310px;width:1114.42px"></div>
<div class="lh" style="left:14.0px;top:335px;width:1114.42px"></div>
<div class="lh" style="left:14.0px;top:360px;width:1114.42px"></div>
<div class="lh" style="left:14.0px;top:385px;width:1114.42px"></div>
<div class="lh" style="left:14.0px;top:410px;width:1114.42px"></div>
<div class="lh" style="left:14.0px;top:435px;width:1114.42px"></div>
<div class="lh" style="left:14.0px;top:460px;width:1114.42px"></div>
<div class="lh" style="left:14.0px;top:485px;width:1114.42px"></div>
<div class="lh" style="left:14.0px;top:510px;width:1114.42px"></div>
<div class="lh" style="left:14.0px;top:535px;width:1114.42px"></div>
<div class="lh" style="left:14.0px;top:560px;width:1114.42px"></div>
<div class="lh" style="left:14.0px;top:585px;width:1114.42px"></div>
<div class="lh" style="left:14.0px;top:610px;width:1114.42px"></div>
<div class="lh" style="left:14.0px;top:635px;width:1114.42px"></div>
<div class="lh" style="left:14.0px;top:660px;width:1114.42px"></div>
<div class="lh" style="left:14.0px;top:685px;width:1114.42px"></div>
<div class="lh" style="left:14.0px;top:710px;width:1114.42px"></div>
<div class="lh" style="left:14.0px;top:735px;width:1114.42px"></div>
<div class="lh" style="left:14.0px;top:760px;width:1114.42px"></div>
<div class="lh" style="left:14.0px;top:785px;width:1114.42px"></div>
<div class="lh" style="left:14.0px;top:810px;width:1114.42px"></div>
<div class="lh" style="left:14.0px;top:835px;width:1114.42px"></div>
<div class="lh" style="left:14.0px;top:859px;width:1114.42px"></div>
<div class="lh" style="left:14.0px;top:884px;width:1114.42px"></div>
<div class="lh" style="left:14.0px;top:909px;width:1114.42px"></div>
<div class="lh" style="left:14.0px;top:934px;width:1114.42px"></div>
<div class="lh" style="left:14.0px;top:959px;width:1114.42px"></div>
<div class="lh" style="left:14.0px;top:984px;width:1114.42px"></div>
<div class="lh" style="left:14.0px;top:1009px;width:1114.42px"></div>
<div class="lh" style="left:14.0px;top:1034px;width:1114.42px"></div>
<div class="lh" style="left:14.0px;top:1059px;width:1114.42px"></div>
<div class="lh" style="left:14.0px;top:1084px;width:1114.42px"></div>
<div class="lh" style="left:14.0px;top:1109px;width:1114.42px"></div>
<div class="lh" style="left:14.0px;top:1134px;width:1114.42px"></div>
<div class="lh" style="left:14.0px;top:1159px;width:1114.42px"></div>
<div class="lh" style="left:14.0px;top:1184px;width:1114.42px"></div>
</body></html>
